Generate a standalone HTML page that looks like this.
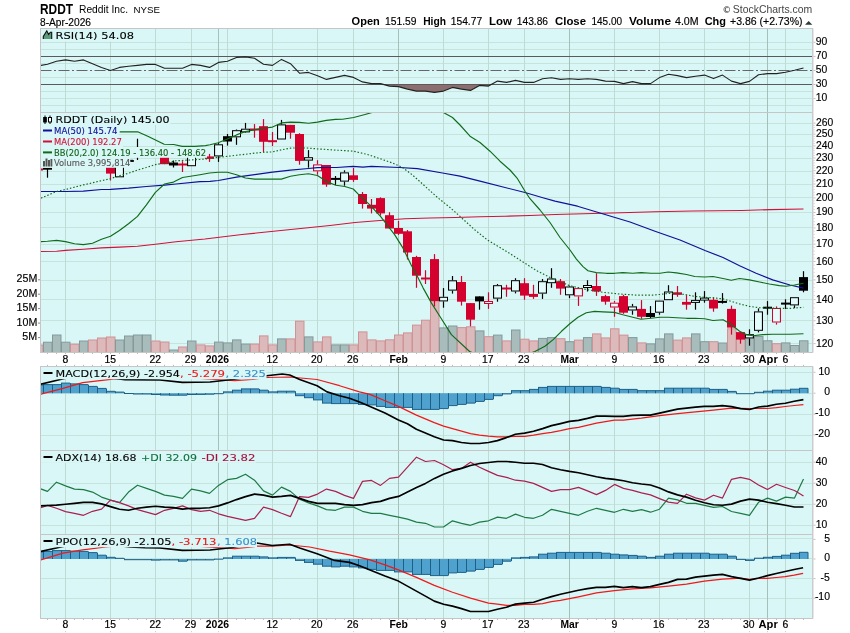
<!DOCTYPE html>
<html><head><meta charset="utf-8"><title>RDDT</title><style>html,body{margin:0;padding:0;background:#fff}svg{display:block;will-change:transform}</style></head><body>
<svg width="850" height="633" viewBox="0 0 850 633">
<defs>
<clipPath id="c_rsi"><rect x="41" y="29" width="771" height="83"/></clipPath>
<clipPath id="c_main"><rect x="41" y="113" width="771" height="239"/></clipPath>
<clipPath id="c_macd"><rect x="41" y="367" width="771" height="83"/></clipPath>
<clipPath id="c_adx"><rect x="41" y="451" width="771" height="83"/></clipPath>
<clipPath id="c_ppo"><rect x="41" y="535" width="771" height="83"/></clipPath>
</defs>
<rect x="0" y="0" width="850" height="633" fill="#fff"/>
<rect x="40.5" y="28.5" width="772" height="84" fill="#daf7f7"/>
<rect x="40.5" y="112.5" width="772" height="240" fill="#daf7f7"/>
<rect x="40.5" y="366.5" width="772" height="84" fill="#daf7f7"/>
<rect x="40.5" y="450.5" width="772" height="84" fill="#daf7f7"/>
<rect x="40.5" y="534.5" width="772" height="84" fill="#daf7f7"/>
<line x1="40.5" y1="105.5" x2="812.5" y2="105.5" stroke="#c6e3dc" stroke-width="1"/>
<line x1="40.5" y1="98.5" x2="812.5" y2="98.5" stroke="#c6e3dc" stroke-width="1"/>
<line x1="40.5" y1="91.5" x2="812.5" y2="91.5" stroke="#c6e3dc" stroke-width="1"/>
<line x1="40.5" y1="77.5" x2="812.5" y2="77.5" stroke="#c6e3dc" stroke-width="1"/>
<line x1="40.5" y1="63.5" x2="812.5" y2="63.5" stroke="#c6e3dc" stroke-width="1"/>
<line x1="40.5" y1="49.5" x2="812.5" y2="49.5" stroke="#c6e3dc" stroke-width="1"/>
<line x1="40.5" y1="42.5" x2="812.5" y2="42.5" stroke="#c6e3dc" stroke-width="1"/>
<line x1="65.5" y1="28.5" x2="65.5" y2="112.5" stroke="#bedcd4" stroke-width="1"/>
<line x1="110.5" y1="28.5" x2="110.5" y2="112.5" stroke="#bedcd4" stroke-width="1"/>
<line x1="155.5" y1="28.5" x2="155.5" y2="112.5" stroke="#bedcd4" stroke-width="1"/>
<line x1="191.5" y1="28.5" x2="191.5" y2="112.5" stroke="#bedcd4" stroke-width="1"/>
<line x1="218.5" y1="28.5" x2="218.5" y2="112.5" stroke="#a5c0b6" stroke-width="1"/>
<line x1="227.5" y1="28.5" x2="227.5" y2="112.5" stroke="#bedcd4" stroke-width="1"/>
<line x1="272.5" y1="28.5" x2="272.5" y2="112.5" stroke="#bedcd4" stroke-width="1"/>
<line x1="317.5" y1="28.5" x2="317.5" y2="112.5" stroke="#bedcd4" stroke-width="1"/>
<line x1="353.5" y1="28.5" x2="353.5" y2="112.5" stroke="#bedcd4" stroke-width="1"/>
<line x1="398.5" y1="28.5" x2="398.5" y2="112.5" stroke="#a5c0b6" stroke-width="1"/>
<line x1="443.5" y1="28.5" x2="443.5" y2="112.5" stroke="#bedcd4" stroke-width="1"/>
<line x1="488.5" y1="28.5" x2="488.5" y2="112.5" stroke="#bedcd4" stroke-width="1"/>
<line x1="524.5" y1="28.5" x2="524.5" y2="112.5" stroke="#bedcd4" stroke-width="1"/>
<line x1="569.5" y1="28.5" x2="569.5" y2="112.5" stroke="#a5c0b6" stroke-width="1"/>
<line x1="614.5" y1="28.5" x2="614.5" y2="112.5" stroke="#bedcd4" stroke-width="1"/>
<line x1="659.5" y1="28.5" x2="659.5" y2="112.5" stroke="#bedcd4" stroke-width="1"/>
<line x1="704.5" y1="28.5" x2="704.5" y2="112.5" stroke="#bedcd4" stroke-width="1"/>
<line x1="749.5" y1="28.5" x2="749.5" y2="112.5" stroke="#bedcd4" stroke-width="1"/>
<line x1="767.5" y1="28.5" x2="767.5" y2="112.5" stroke="#a5c0b6" stroke-width="1"/>
<line x1="785.5" y1="28.5" x2="785.5" y2="112.5" stroke="#bedcd4" stroke-width="1"/>
<line x1="40.5" y1="343.5" x2="812.5" y2="343.5" stroke="#c6e3dc" stroke-width="1"/>
<line x1="40.5" y1="320.5" x2="812.5" y2="320.5" stroke="#c6e3dc" stroke-width="1"/>
<line x1="40.5" y1="299.5" x2="812.5" y2="299.5" stroke="#c6e3dc" stroke-width="1"/>
<line x1="40.5" y1="280.5" x2="812.5" y2="280.5" stroke="#c6e3dc" stroke-width="1"/>
<line x1="40.5" y1="261.5" x2="812.5" y2="261.5" stroke="#c6e3dc" stroke-width="1"/>
<line x1="40.5" y1="244.5" x2="812.5" y2="244.5" stroke="#c6e3dc" stroke-width="1"/>
<line x1="40.5" y1="227.5" x2="812.5" y2="227.5" stroke="#c6e3dc" stroke-width="1"/>
<line x1="40.5" y1="212.5" x2="812.5" y2="212.5" stroke="#c6e3dc" stroke-width="1"/>
<line x1="40.5" y1="197.5" x2="812.5" y2="197.5" stroke="#c6e3dc" stroke-width="1"/>
<line x1="40.5" y1="184.5" x2="812.5" y2="184.5" stroke="#c6e3dc" stroke-width="1"/>
<line x1="40.5" y1="171.5" x2="812.5" y2="171.5" stroke="#c6e3dc" stroke-width="1"/>
<line x1="40.5" y1="158.5" x2="812.5" y2="158.5" stroke="#c6e3dc" stroke-width="1"/>
<line x1="40.5" y1="146.5" x2="812.5" y2="146.5" stroke="#c6e3dc" stroke-width="1"/>
<line x1="40.5" y1="134.5" x2="812.5" y2="134.5" stroke="#c6e3dc" stroke-width="1"/>
<line x1="40.5" y1="123.5" x2="812.5" y2="123.5" stroke="#c6e3dc" stroke-width="1"/>
<line x1="65.5" y1="112.5" x2="65.5" y2="352.5" stroke="#bedcd4" stroke-width="1"/>
<line x1="110.5" y1="112.5" x2="110.5" y2="352.5" stroke="#bedcd4" stroke-width="1"/>
<line x1="155.5" y1="112.5" x2="155.5" y2="352.5" stroke="#bedcd4" stroke-width="1"/>
<line x1="191.5" y1="112.5" x2="191.5" y2="352.5" stroke="#bedcd4" stroke-width="1"/>
<line x1="218.5" y1="112.5" x2="218.5" y2="352.5" stroke="#a5c0b6" stroke-width="1"/>
<line x1="227.5" y1="112.5" x2="227.5" y2="352.5" stroke="#bedcd4" stroke-width="1"/>
<line x1="272.5" y1="112.5" x2="272.5" y2="352.5" stroke="#bedcd4" stroke-width="1"/>
<line x1="317.5" y1="112.5" x2="317.5" y2="352.5" stroke="#bedcd4" stroke-width="1"/>
<line x1="353.5" y1="112.5" x2="353.5" y2="352.5" stroke="#bedcd4" stroke-width="1"/>
<line x1="398.5" y1="112.5" x2="398.5" y2="352.5" stroke="#a5c0b6" stroke-width="1"/>
<line x1="443.5" y1="112.5" x2="443.5" y2="352.5" stroke="#bedcd4" stroke-width="1"/>
<line x1="488.5" y1="112.5" x2="488.5" y2="352.5" stroke="#bedcd4" stroke-width="1"/>
<line x1="524.5" y1="112.5" x2="524.5" y2="352.5" stroke="#bedcd4" stroke-width="1"/>
<line x1="569.5" y1="112.5" x2="569.5" y2="352.5" stroke="#a5c0b6" stroke-width="1"/>
<line x1="614.5" y1="112.5" x2="614.5" y2="352.5" stroke="#bedcd4" stroke-width="1"/>
<line x1="659.5" y1="112.5" x2="659.5" y2="352.5" stroke="#bedcd4" stroke-width="1"/>
<line x1="704.5" y1="112.5" x2="704.5" y2="352.5" stroke="#bedcd4" stroke-width="1"/>
<line x1="749.5" y1="112.5" x2="749.5" y2="352.5" stroke="#bedcd4" stroke-width="1"/>
<line x1="767.5" y1="112.5" x2="767.5" y2="352.5" stroke="#a5c0b6" stroke-width="1"/>
<line x1="785.5" y1="112.5" x2="785.5" y2="352.5" stroke="#bedcd4" stroke-width="1"/>
<line x1="40.5" y1="372.5" x2="812.5" y2="372.5" stroke="#c6e3dc" stroke-width="1"/>
<line x1="40.5" y1="393.5" x2="812.5" y2="393.5" stroke="#c6e3dc" stroke-width="1"/>
<line x1="40.5" y1="414.5" x2="812.5" y2="414.5" stroke="#c6e3dc" stroke-width="1"/>
<line x1="40.5" y1="435.5" x2="812.5" y2="435.5" stroke="#c6e3dc" stroke-width="1"/>
<line x1="65.5" y1="366.5" x2="65.5" y2="450.5" stroke="#bedcd4" stroke-width="1"/>
<line x1="110.5" y1="366.5" x2="110.5" y2="450.5" stroke="#bedcd4" stroke-width="1"/>
<line x1="155.5" y1="366.5" x2="155.5" y2="450.5" stroke="#bedcd4" stroke-width="1"/>
<line x1="191.5" y1="366.5" x2="191.5" y2="450.5" stroke="#bedcd4" stroke-width="1"/>
<line x1="218.5" y1="366.5" x2="218.5" y2="450.5" stroke="#a5c0b6" stroke-width="1"/>
<line x1="227.5" y1="366.5" x2="227.5" y2="450.5" stroke="#bedcd4" stroke-width="1"/>
<line x1="272.5" y1="366.5" x2="272.5" y2="450.5" stroke="#bedcd4" stroke-width="1"/>
<line x1="317.5" y1="366.5" x2="317.5" y2="450.5" stroke="#bedcd4" stroke-width="1"/>
<line x1="353.5" y1="366.5" x2="353.5" y2="450.5" stroke="#bedcd4" stroke-width="1"/>
<line x1="398.5" y1="366.5" x2="398.5" y2="450.5" stroke="#a5c0b6" stroke-width="1"/>
<line x1="443.5" y1="366.5" x2="443.5" y2="450.5" stroke="#bedcd4" stroke-width="1"/>
<line x1="488.5" y1="366.5" x2="488.5" y2="450.5" stroke="#bedcd4" stroke-width="1"/>
<line x1="524.5" y1="366.5" x2="524.5" y2="450.5" stroke="#bedcd4" stroke-width="1"/>
<line x1="569.5" y1="366.5" x2="569.5" y2="450.5" stroke="#a5c0b6" stroke-width="1"/>
<line x1="614.5" y1="366.5" x2="614.5" y2="450.5" stroke="#bedcd4" stroke-width="1"/>
<line x1="659.5" y1="366.5" x2="659.5" y2="450.5" stroke="#bedcd4" stroke-width="1"/>
<line x1="704.5" y1="366.5" x2="704.5" y2="450.5" stroke="#bedcd4" stroke-width="1"/>
<line x1="749.5" y1="366.5" x2="749.5" y2="450.5" stroke="#bedcd4" stroke-width="1"/>
<line x1="767.5" y1="366.5" x2="767.5" y2="450.5" stroke="#a5c0b6" stroke-width="1"/>
<line x1="785.5" y1="366.5" x2="785.5" y2="450.5" stroke="#bedcd4" stroke-width="1"/>
<line x1="40.5" y1="525.5" x2="812.5" y2="525.5" stroke="#c6e3dc" stroke-width="1"/>
<line x1="40.5" y1="504.5" x2="812.5" y2="504.5" stroke="#c6e3dc" stroke-width="1"/>
<line x1="40.5" y1="483.5" x2="812.5" y2="483.5" stroke="#c6e3dc" stroke-width="1"/>
<line x1="40.5" y1="462.5" x2="812.5" y2="462.5" stroke="#c6e3dc" stroke-width="1"/>
<line x1="65.5" y1="450.5" x2="65.5" y2="534.5" stroke="#bedcd4" stroke-width="1"/>
<line x1="110.5" y1="450.5" x2="110.5" y2="534.5" stroke="#bedcd4" stroke-width="1"/>
<line x1="155.5" y1="450.5" x2="155.5" y2="534.5" stroke="#bedcd4" stroke-width="1"/>
<line x1="191.5" y1="450.5" x2="191.5" y2="534.5" stroke="#bedcd4" stroke-width="1"/>
<line x1="218.5" y1="450.5" x2="218.5" y2="534.5" stroke="#a5c0b6" stroke-width="1"/>
<line x1="227.5" y1="450.5" x2="227.5" y2="534.5" stroke="#bedcd4" stroke-width="1"/>
<line x1="272.5" y1="450.5" x2="272.5" y2="534.5" stroke="#bedcd4" stroke-width="1"/>
<line x1="317.5" y1="450.5" x2="317.5" y2="534.5" stroke="#bedcd4" stroke-width="1"/>
<line x1="353.5" y1="450.5" x2="353.5" y2="534.5" stroke="#bedcd4" stroke-width="1"/>
<line x1="398.5" y1="450.5" x2="398.5" y2="534.5" stroke="#a5c0b6" stroke-width="1"/>
<line x1="443.5" y1="450.5" x2="443.5" y2="534.5" stroke="#bedcd4" stroke-width="1"/>
<line x1="488.5" y1="450.5" x2="488.5" y2="534.5" stroke="#bedcd4" stroke-width="1"/>
<line x1="524.5" y1="450.5" x2="524.5" y2="534.5" stroke="#bedcd4" stroke-width="1"/>
<line x1="569.5" y1="450.5" x2="569.5" y2="534.5" stroke="#a5c0b6" stroke-width="1"/>
<line x1="614.5" y1="450.5" x2="614.5" y2="534.5" stroke="#bedcd4" stroke-width="1"/>
<line x1="659.5" y1="450.5" x2="659.5" y2="534.5" stroke="#bedcd4" stroke-width="1"/>
<line x1="704.5" y1="450.5" x2="704.5" y2="534.5" stroke="#bedcd4" stroke-width="1"/>
<line x1="749.5" y1="450.5" x2="749.5" y2="534.5" stroke="#bedcd4" stroke-width="1"/>
<line x1="767.5" y1="450.5" x2="767.5" y2="534.5" stroke="#a5c0b6" stroke-width="1"/>
<line x1="785.5" y1="450.5" x2="785.5" y2="534.5" stroke="#bedcd4" stroke-width="1"/>
<line x1="40.5" y1="538.5" x2="812.5" y2="538.5" stroke="#c6e3dc" stroke-width="1"/>
<line x1="40.5" y1="558.5" x2="812.5" y2="558.5" stroke="#c6e3dc" stroke-width="1"/>
<line x1="40.5" y1="578.5" x2="812.5" y2="578.5" stroke="#c6e3dc" stroke-width="1"/>
<line x1="40.5" y1="598.5" x2="812.5" y2="598.5" stroke="#c6e3dc" stroke-width="1"/>
<line x1="65.5" y1="534.5" x2="65.5" y2="618.5" stroke="#bedcd4" stroke-width="1"/>
<line x1="110.5" y1="534.5" x2="110.5" y2="618.5" stroke="#bedcd4" stroke-width="1"/>
<line x1="155.5" y1="534.5" x2="155.5" y2="618.5" stroke="#bedcd4" stroke-width="1"/>
<line x1="191.5" y1="534.5" x2="191.5" y2="618.5" stroke="#bedcd4" stroke-width="1"/>
<line x1="218.5" y1="534.5" x2="218.5" y2="618.5" stroke="#a5c0b6" stroke-width="1"/>
<line x1="227.5" y1="534.5" x2="227.5" y2="618.5" stroke="#bedcd4" stroke-width="1"/>
<line x1="272.5" y1="534.5" x2="272.5" y2="618.5" stroke="#bedcd4" stroke-width="1"/>
<line x1="317.5" y1="534.5" x2="317.5" y2="618.5" stroke="#bedcd4" stroke-width="1"/>
<line x1="353.5" y1="534.5" x2="353.5" y2="618.5" stroke="#bedcd4" stroke-width="1"/>
<line x1="398.5" y1="534.5" x2="398.5" y2="618.5" stroke="#a5c0b6" stroke-width="1"/>
<line x1="443.5" y1="534.5" x2="443.5" y2="618.5" stroke="#bedcd4" stroke-width="1"/>
<line x1="488.5" y1="534.5" x2="488.5" y2="618.5" stroke="#bedcd4" stroke-width="1"/>
<line x1="524.5" y1="534.5" x2="524.5" y2="618.5" stroke="#bedcd4" stroke-width="1"/>
<line x1="569.5" y1="534.5" x2="569.5" y2="618.5" stroke="#a5c0b6" stroke-width="1"/>
<line x1="614.5" y1="534.5" x2="614.5" y2="618.5" stroke="#bedcd4" stroke-width="1"/>
<line x1="659.5" y1="534.5" x2="659.5" y2="618.5" stroke="#bedcd4" stroke-width="1"/>
<line x1="704.5" y1="534.5" x2="704.5" y2="618.5" stroke="#bedcd4" stroke-width="1"/>
<line x1="749.5" y1="534.5" x2="749.5" y2="618.5" stroke="#bedcd4" stroke-width="1"/>
<line x1="767.5" y1="534.5" x2="767.5" y2="618.5" stroke="#a5c0b6" stroke-width="1"/>
<line x1="785.5" y1="534.5" x2="785.5" y2="618.5" stroke="#bedcd4" stroke-width="1"/>
<g clip-path="url(#c_rsi)">
<polygon points="383.7,84.5 389.5,86.1 398.5,86.6 407.5,89.1 416.5,91.1 425.5,91.1 434.5,92.4 443.5,91.1 452.5,87.4 461.5,89.1 470.5,90.4 479.5,85.4 488.5,86.1 491.4,84.5" fill="#8d6e70"/>
<line x1="40.5" y1="56.5" x2="812.5" y2="56.5" stroke="#5a5a5a" stroke-width="1"/>
<line x1="40.5" y1="84.5" x2="812.5" y2="84.5" stroke="#5a5a5a" stroke-width="1"/>
<line x1="40.5" y1="70.5" x2="812.5" y2="70.5" stroke="#666" stroke-width="1" stroke-dasharray="11,2.5,2,2.5"/>
<polyline points="40.7,65.4 47.5,64.2 56.5,61.2 65.5,59.9 74.5,61.2 83.5,59.9 92.5,63.7 101.5,67.4 110.5,70.4 119.5,67.4 128.5,66.2 137.5,65.4 146.5,64.4 155.5,64.4 164.5,68.3 173.5,68.3 182.5,68.3 191.5,64.4 200.5,65.4 209.5,67.4 218.5,62.4 227.5,61.2 236.5,57.4 245.5,56.9 254.5,58.2 263.5,64.2 272.5,65.4 281.5,59.4 290.5,63.7 299.5,73.2 308.5,72.4 317.5,75.7 326.5,79.4 335.5,77.4 344.5,75.4 353.5,77.4 362.5,81.9 371.5,83.6 380.5,83.6 389.5,86.1 398.5,86.6 407.5,89.1 416.5,91.1 425.5,91.1 434.5,92.4 443.5,91.1 452.5,87.4 461.5,89.1 470.5,90.4 479.5,85.4 488.5,86.1 497.5,81.1 506.5,82.4 515.5,80.4 524.5,82.4 533.5,82.4 542.5,78.7 551.5,77.7 560.5,79.4 569.5,78.7 578.5,79.4 587.5,78.7 596.5,79.4 605.5,81.1 614.5,81.4 623.5,83.6 632.5,81.6 641.5,83.6 650.5,83.6 659.5,77.6 668.5,74.3 677.5,75.6 686.5,77.6 695.5,76.3 704.5,75.1 713.5,78.6 722.5,75.1 731.5,81.1 740.5,83.6 749.5,81.4 758.5,74.8 767.5,73.6 776.5,73.6 785.5,72.3 794.5,70.3 803.5,68" fill="none" stroke="#222" stroke-width="1.1" stroke-linejoin="round"/>
</g>
<g clip-path="url(#c_main)">
<rect x="34.5" y="345" width="8.5" height="8" fill="#dcb9bb" stroke="#cf9295" stroke-width="1"/>
<rect x="43.5" y="342.2" width="8.5" height="10.8" fill="#a9bcbc" stroke="#84999a" stroke-width="1"/>
<rect x="52.5" y="335" width="8.5" height="18" fill="#a9bcbc" stroke="#84999a" stroke-width="1"/>
<rect x="61.5" y="342.2" width="8.5" height="10.8" fill="#a9bcbc" stroke="#84999a" stroke-width="1"/>
<rect x="70.5" y="344.2" width="8.5" height="8.8" fill="#dcb9bb" stroke="#cf9295" stroke-width="1"/>
<rect x="79.5" y="341" width="8.5" height="12" fill="#a9bcbc" stroke="#84999a" stroke-width="1"/>
<rect x="88.5" y="340" width="8.5" height="13" fill="#dcb9bb" stroke="#cf9295" stroke-width="1"/>
<rect x="97.5" y="338" width="8.5" height="15" fill="#dcb9bb" stroke="#cf9295" stroke-width="1"/>
<rect x="106.5" y="337" width="8.5" height="16" fill="#dcb9bb" stroke="#cf9295" stroke-width="1"/>
<rect x="115.5" y="340" width="8.5" height="13" fill="#a9bcbc" stroke="#84999a" stroke-width="1"/>
<rect x="124.5" y="336" width="8.5" height="17" fill="#a9bcbc" stroke="#84999a" stroke-width="1"/>
<rect x="133.5" y="335" width="8.5" height="18" fill="#a9bcbc" stroke="#84999a" stroke-width="1"/>
<rect x="142.5" y="335" width="8.5" height="18" fill="#a9bcbc" stroke="#84999a" stroke-width="1"/>
<rect x="151.5" y="341" width="8.5" height="12" fill="#dcb9bb" stroke="#cf9295" stroke-width="1"/>
<rect x="160.5" y="342" width="8.5" height="11" fill="#dcb9bb" stroke="#cf9295" stroke-width="1"/>
<rect x="169.5" y="350" width="8.5" height="3" fill="#a9bcbc" stroke="#84999a" stroke-width="1"/>
<rect x="178.5" y="347" width="8.5" height="6" fill="#dcb9bb" stroke="#cf9295" stroke-width="1"/>
<rect x="187.5" y="341" width="8.5" height="12" fill="#a9bcbc" stroke="#84999a" stroke-width="1"/>
<rect x="196.5" y="344.9" width="8.5" height="8.1" fill="#dcb9bb" stroke="#cf9295" stroke-width="1"/>
<rect x="205.5" y="345.9" width="8.5" height="7.1" fill="#dcb9bb" stroke="#cf9295" stroke-width="1"/>
<rect x="214.5" y="342.1" width="8.5" height="10.9" fill="#a9bcbc" stroke="#84999a" stroke-width="1"/>
<rect x="223.5" y="342.9" width="8.5" height="10.1" fill="#a9bcbc" stroke="#84999a" stroke-width="1"/>
<rect x="232.5" y="339.9" width="8.5" height="13.1" fill="#a9bcbc" stroke="#84999a" stroke-width="1"/>
<rect x="241.5" y="344.1" width="8.5" height="8.9" fill="#a9bcbc" stroke="#84999a" stroke-width="1"/>
<rect x="250.5" y="344.1" width="8.5" height="8.9" fill="#dcb9bb" stroke="#cf9295" stroke-width="1"/>
<rect x="259.5" y="335.9" width="8.5" height="17.1" fill="#dcb9bb" stroke="#cf9295" stroke-width="1"/>
<rect x="268.5" y="344.9" width="8.5" height="8.1" fill="#dcb9bb" stroke="#cf9295" stroke-width="1"/>
<rect x="277.5" y="338.9" width="8.5" height="14.1" fill="#a9bcbc" stroke="#84999a" stroke-width="1"/>
<rect x="286.5" y="338.9" width="8.5" height="14.1" fill="#dcb9bb" stroke="#cf9295" stroke-width="1"/>
<rect x="295.5" y="321.2" width="8.5" height="31.8" fill="#dcb9bb" stroke="#cf9295" stroke-width="1"/>
<rect x="304.5" y="336.9" width="8.5" height="16.1" fill="#a9bcbc" stroke="#84999a" stroke-width="1"/>
<rect x="313.5" y="341.9" width="8.5" height="11.1" fill="#dcb9bb" stroke="#cf9295" stroke-width="1"/>
<rect x="322.5" y="336.9" width="8.5" height="16.1" fill="#dcb9bb" stroke="#cf9295" stroke-width="1"/>
<rect x="331.5" y="344.9" width="8.5" height="8.1" fill="#a9bcbc" stroke="#84999a" stroke-width="1"/>
<rect x="340.5" y="344.9" width="8.5" height="8.1" fill="#a9bcbc" stroke="#84999a" stroke-width="1"/>
<rect x="349.5" y="344.9" width="8.5" height="8.1" fill="#dcb9bb" stroke="#cf9295" stroke-width="1"/>
<rect x="358.5" y="331.9" width="8.5" height="21.1" fill="#dcb9bb" stroke="#cf9295" stroke-width="1"/>
<rect x="367.5" y="339.9" width="8.5" height="13.1" fill="#dcb9bb" stroke="#cf9295" stroke-width="1"/>
<rect x="376.5" y="340.9" width="8.5" height="12.1" fill="#dcb9bb" stroke="#cf9295" stroke-width="1"/>
<rect x="385.5" y="339.8" width="8.5" height="13.2" fill="#dcb9bb" stroke="#cf9295" stroke-width="1"/>
<rect x="394.5" y="335" width="8.5" height="18" fill="#dcb9bb" stroke="#cf9295" stroke-width="1"/>
<rect x="403.5" y="332.9" width="8.5" height="20.1" fill="#dcb9bb" stroke="#cf9295" stroke-width="1"/>
<rect x="412.5" y="325.1" width="8.5" height="27.9" fill="#dcb9bb" stroke="#cf9295" stroke-width="1"/>
<rect x="421.5" y="320.2" width="8.5" height="32.8" fill="#dcb9bb" stroke="#cf9295" stroke-width="1"/>
<rect x="430.5" y="301.6" width="8.5" height="51.4" fill="#dcb9bb" stroke="#cf9295" stroke-width="1"/>
<rect x="439.5" y="327.9" width="8.5" height="25.1" fill="#a9bcbc" stroke="#84999a" stroke-width="1"/>
<rect x="448.5" y="326" width="8.5" height="27" fill="#a9bcbc" stroke="#84999a" stroke-width="1"/>
<rect x="457.5" y="327.6" width="8.5" height="25.4" fill="#dcb9bb" stroke="#cf9295" stroke-width="1"/>
<rect x="466.5" y="326.8" width="8.5" height="26.2" fill="#dcb9bb" stroke="#cf9295" stroke-width="1"/>
<rect x="475.5" y="330.9" width="8.5" height="22.1" fill="#a9bcbc" stroke="#84999a" stroke-width="1"/>
<rect x="484.5" y="336.7" width="8.5" height="16.3" fill="#dcb9bb" stroke="#cf9295" stroke-width="1"/>
<rect x="493.5" y="335.1" width="8.5" height="17.9" fill="#a9bcbc" stroke="#84999a" stroke-width="1"/>
<rect x="502.5" y="340.9" width="8.5" height="12.1" fill="#dcb9bb" stroke="#cf9295" stroke-width="1"/>
<rect x="511.5" y="330" width="8.5" height="23" fill="#a9bcbc" stroke="#84999a" stroke-width="1"/>
<rect x="520.5" y="339.2" width="8.5" height="13.8" fill="#dcb9bb" stroke="#cf9295" stroke-width="1"/>
<rect x="529.5" y="340.9" width="8.5" height="12.1" fill="#dcb9bb" stroke="#cf9295" stroke-width="1"/>
<rect x="538.5" y="338.4" width="8.5" height="14.6" fill="#a9bcbc" stroke="#84999a" stroke-width="1"/>
<rect x="547.5" y="337.6" width="8.5" height="15.4" fill="#a9bcbc" stroke="#84999a" stroke-width="1"/>
<rect x="556.5" y="338.7" width="8.5" height="14.3" fill="#dcb9bb" stroke="#cf9295" stroke-width="1"/>
<rect x="565.5" y="341.7" width="8.5" height="11.3" fill="#a9bcbc" stroke="#84999a" stroke-width="1"/>
<rect x="574.5" y="340.1" width="8.5" height="12.9" fill="#dcb9bb" stroke="#cf9295" stroke-width="1"/>
<rect x="583.5" y="337.6" width="8.5" height="15.4" fill="#a9bcbc" stroke="#84999a" stroke-width="1"/>
<rect x="592.5" y="333.9" width="8.5" height="19.1" fill="#dcb9bb" stroke="#cf9295" stroke-width="1"/>
<rect x="601.5" y="337.9" width="8.5" height="15.1" fill="#dcb9bb" stroke="#cf9295" stroke-width="1"/>
<rect x="610.5" y="328.8" width="8.5" height="24.2" fill="#dcb9bb" stroke="#cf9295" stroke-width="1"/>
<rect x="619.5" y="335.1" width="8.5" height="17.9" fill="#dcb9bb" stroke="#cf9295" stroke-width="1"/>
<rect x="628.5" y="337.6" width="8.5" height="15.4" fill="#a9bcbc" stroke="#84999a" stroke-width="1"/>
<rect x="637.5" y="342.9" width="8.5" height="10.1" fill="#dcb9bb" stroke="#cf9295" stroke-width="1"/>
<rect x="646.5" y="343.9" width="8.5" height="9.1" fill="#a9bcbc" stroke="#84999a" stroke-width="1"/>
<rect x="655.5" y="338.9" width="8.5" height="14.1" fill="#a9bcbc" stroke="#84999a" stroke-width="1"/>
<rect x="664.5" y="333.9" width="8.5" height="19.1" fill="#a9bcbc" stroke="#84999a" stroke-width="1"/>
<rect x="673.5" y="340.1" width="8.5" height="12.9" fill="#dcb9bb" stroke="#cf9295" stroke-width="1"/>
<rect x="682.5" y="337.9" width="8.5" height="15.1" fill="#dcb9bb" stroke="#cf9295" stroke-width="1"/>
<rect x="691.5" y="333.9" width="8.5" height="19.1" fill="#a9bcbc" stroke="#84999a" stroke-width="1"/>
<rect x="700.5" y="341.7" width="8.5" height="11.3" fill="#a9bcbc" stroke="#84999a" stroke-width="1"/>
<rect x="709.5" y="341.7" width="8.5" height="11.3" fill="#dcb9bb" stroke="#cf9295" stroke-width="1"/>
<rect x="718.5" y="343" width="8.5" height="10" fill="#a9bcbc" stroke="#84999a" stroke-width="1"/>
<rect x="727.5" y="328.8" width="8.5" height="24.2" fill="#dcb9bb" stroke="#cf9295" stroke-width="1"/>
<rect x="736.5" y="334" width="8.5" height="19" fill="#dcb9bb" stroke="#cf9295" stroke-width="1"/>
<rect x="745.5" y="335.9" width="8.5" height="17.1" fill="#a9bcbc" stroke="#84999a" stroke-width="1"/>
<rect x="754.5" y="336.5" width="8.5" height="16.5" fill="#a9bcbc" stroke="#84999a" stroke-width="1"/>
<rect x="763.5" y="340.8" width="8.5" height="12.2" fill="#a9bcbc" stroke="#84999a" stroke-width="1"/>
<rect x="772.5" y="343.7" width="8.5" height="9.3" fill="#dcb9bb" stroke="#cf9295" stroke-width="1"/>
<rect x="781.5" y="342.9" width="8.5" height="10.1" fill="#a9bcbc" stroke="#84999a" stroke-width="1"/>
<rect x="790.5" y="345.5" width="8.5" height="7.5" fill="#a9bcbc" stroke="#84999a" stroke-width="1"/>
<rect x="799.5" y="340.8" width="8.5" height="12.2" fill="#a9bcbc" stroke="#84999a" stroke-width="1"/>
<line x1="38.5" y1="168.5" x2="38.5" y2="170.5" stroke="#d4002e" stroke-width="1.2"/>
<rect x="34" y="168.5" width="9" height="2" fill="#d4002e"/>
<line x1="47.5" y1="168.7" x2="47.5" y2="177.7" stroke="#000" stroke-width="1.2"/>
<rect x="43" y="167.7" width="9" height="2" fill="#000"/>
<line x1="110.5" y1="160" x2="110.5" y2="180.5" stroke="#d4002e" stroke-width="1.2"/>
<rect x="106" y="160" width="9" height="13.6" fill="#d4002e"/>
<line x1="119.5" y1="158" x2="119.5" y2="158" stroke="#000" stroke-width="1.2"/>
<line x1="119.5" y1="177.3" x2="119.5" y2="177.3" stroke="#000" stroke-width="1.2"/>
<rect x="115" y="158" width="9" height="19.3" fill="#000"/>
<rect x="116" y="159" width="6.9" height="17.3" fill="#e4fbfb"/>
<line x1="128.5" y1="158" x2="128.5" y2="162" stroke="#000" stroke-width="1.2"/>
<rect x="124" y="159.8" width="9" height="2" fill="#000"/>
<line x1="137.5" y1="138.7" x2="137.5" y2="149" stroke="#000" stroke-width="1.2"/>
<line x1="137.5" y1="155" x2="137.5" y2="160" stroke="#000" stroke-width="1.2"/>
<rect x="133" y="149" width="9" height="6" fill="#000"/>
<rect x="134.1" y="150" width="6.9" height="4" fill="#e4fbfb"/>
<line x1="164.5" y1="152" x2="164.5" y2="164.2" stroke="#d4002e" stroke-width="1.2"/>
<rect x="160" y="152" width="9" height="12.2" fill="#d4002e"/>
<line x1="173.5" y1="160.5" x2="173.5" y2="167.5" stroke="#000" stroke-width="1.2"/>
<rect x="169" y="162.5" width="9" height="3" fill="#000"/>
<line x1="182.5" y1="161.2" x2="182.5" y2="172" stroke="#d4002e" stroke-width="1.2"/>
<rect x="178" y="163.5" width="9" height="2" fill="#d4002e"/>
<line x1="191.5" y1="152" x2="191.5" y2="152" stroke="#000" stroke-width="1.2"/>
<line x1="191.5" y1="166.2" x2="191.5" y2="166.2" stroke="#000" stroke-width="1.2"/>
<rect x="187" y="152" width="9" height="14.2" fill="#000"/>
<rect x="188.1" y="153" width="6.9" height="12.2" fill="#e4fbfb"/>
<line x1="209.5" y1="153.9" x2="209.5" y2="161.9" stroke="#d4002e" stroke-width="1.2"/>
<rect x="205" y="156.4" width="9" height="2.5" fill="#d4002e"/>
<line x1="218.5" y1="143.1" x2="218.5" y2="144.3" stroke="#000" stroke-width="1.2"/>
<line x1="218.5" y1="156.4" x2="218.5" y2="161.9" stroke="#000" stroke-width="1.2"/>
<rect x="214" y="144.3" width="9" height="12.1" fill="#000"/>
<rect x="215.1" y="145.3" width="6.9" height="10.1" fill="#e4fbfb"/>
<line x1="227.5" y1="134" x2="227.5" y2="145.6" stroke="#000" stroke-width="1.2"/>
<rect x="223" y="136.2" width="9" height="5.3" fill="#000"/>
<line x1="236.5" y1="129.5" x2="236.5" y2="130.2" stroke="#000" stroke-width="1.2"/>
<line x1="236.5" y1="137.3" x2="236.5" y2="144.8" stroke="#000" stroke-width="1.2"/>
<rect x="232" y="130.2" width="9" height="7.1" fill="#000"/>
<rect x="233.1" y="131.2" width="6.9" height="5.1" fill="#e4fbfb"/>
<line x1="245.5" y1="122.9" x2="245.5" y2="128.7" stroke="#000" stroke-width="1.2"/>
<line x1="245.5" y1="132.4" x2="245.5" y2="132.9" stroke="#000" stroke-width="1.2"/>
<rect x="241" y="128.7" width="9" height="3.7" fill="#000"/>
<rect x="242.1" y="129.7" width="6.9" height="1.7" fill="#e4fbfb"/>
<line x1="254.5" y1="124.1" x2="254.5" y2="137.7" stroke="#d4002e" stroke-width="1.2"/>
<rect x="250" y="128.5" width="9" height="2" fill="#d4002e"/>
<line x1="263.5" y1="119.1" x2="263.5" y2="152.3" stroke="#d4002e" stroke-width="1.2"/>
<rect x="259" y="126.2" width="9" height="15.6" fill="#d4002e"/>
<line x1="272.5" y1="132" x2="272.5" y2="146" stroke="#d4002e" stroke-width="1.2"/>
<rect x="268" y="140.2" width="9" height="2" fill="#d4002e"/>
<line x1="281.5" y1="119.9" x2="281.5" y2="124.4" stroke="#000" stroke-width="1.2"/>
<line x1="281.5" y1="139.5" x2="281.5" y2="139.5" stroke="#000" stroke-width="1.2"/>
<rect x="277" y="124.4" width="9" height="15.1" fill="#000"/>
<rect x="278.1" y="125.4" width="6.9" height="13.1" fill="#e4fbfb"/>
<line x1="290.5" y1="124.9" x2="290.5" y2="138.7" stroke="#d4002e" stroke-width="1.2"/>
<rect x="286" y="124.9" width="9" height="7.8" fill="#d4002e"/>
<line x1="299.5" y1="133.2" x2="299.5" y2="164.7" stroke="#d4002e" stroke-width="1.2"/>
<rect x="295" y="134" width="9" height="26.9" fill="#d4002e"/>
<line x1="308.5" y1="150.1" x2="308.5" y2="157.2" stroke="#000" stroke-width="1.2"/>
<line x1="308.5" y1="160.6" x2="308.5" y2="167.7" stroke="#000" stroke-width="1.2"/>
<rect x="304" y="157.2" width="9" height="3.4" fill="#000"/>
<rect x="305.1" y="158.2" width="6.9" height="1.4" fill="#e4fbfb"/>
<line x1="317.5" y1="160.2" x2="317.5" y2="164.4" stroke="#d4002e" stroke-width="1.2"/>
<line x1="317.5" y1="171.3" x2="317.5" y2="174.7" stroke="#d4002e" stroke-width="1.2"/>
<rect x="313" y="164.4" width="9" height="6.9" fill="#d4002e"/>
<rect x="314.1" y="165.4" width="6.9" height="4.9" fill="#e4fbfb"/>
<line x1="326.5" y1="165" x2="326.5" y2="186.8" stroke="#d4002e" stroke-width="1.2"/>
<rect x="322" y="165" width="9" height="19.6" fill="#d4002e"/>
<line x1="335.5" y1="176" x2="335.5" y2="185" stroke="#000" stroke-width="1.2"/>
<rect x="331" y="177.9" width="9" height="2" fill="#000"/>
<line x1="344.5" y1="170.3" x2="344.5" y2="172.4" stroke="#000" stroke-width="1.2"/>
<line x1="344.5" y1="181.6" x2="344.5" y2="185.7" stroke="#000" stroke-width="1.2"/>
<rect x="340" y="172.4" width="9" height="9.2" fill="#000"/>
<rect x="341.1" y="173.4" width="6.9" height="7.2" fill="#e4fbfb"/>
<line x1="353.5" y1="168" x2="353.5" y2="181.9" stroke="#d4002e" stroke-width="1.2"/>
<rect x="349" y="175.3" width="9" height="4.6" fill="#d4002e"/>
<line x1="362.5" y1="192" x2="362.5" y2="208.6" stroke="#d4002e" stroke-width="1.2"/>
<rect x="358" y="194" width="9" height="10" fill="#d4002e"/>
<line x1="371.5" y1="199" x2="371.5" y2="213.4" stroke="#d4002e" stroke-width="1.2"/>
<rect x="367" y="204.8" width="9" height="3.8" fill="#d4002e"/>
<line x1="380.5" y1="197.3" x2="380.5" y2="215.6" stroke="#d4002e" stroke-width="1.2"/>
<rect x="376" y="198.1" width="9" height="15.3" fill="#d4002e"/>
<line x1="389.5" y1="212.2" x2="389.5" y2="228.5" stroke="#d4002e" stroke-width="1.2"/>
<rect x="385" y="215.2" width="9" height="13.3" fill="#d4002e"/>
<line x1="398.5" y1="221" x2="398.5" y2="235" stroke="#d4002e" stroke-width="1.2"/>
<rect x="394" y="228" width="9" height="5.8" fill="#d4002e"/>
<line x1="407.5" y1="230" x2="407.5" y2="259.5" stroke="#d4002e" stroke-width="1.2"/>
<rect x="403" y="231.3" width="9" height="21.2" fill="#d4002e"/>
<line x1="416.5" y1="255.8" x2="416.5" y2="287.8" stroke="#d4002e" stroke-width="1.2"/>
<rect x="412" y="257" width="9" height="18.7" fill="#d4002e"/>
<line x1="425.5" y1="270.2" x2="425.5" y2="284" stroke="#d4002e" stroke-width="1.2"/>
<rect x="421" y="277.5" width="9" height="2" fill="#d4002e"/>
<line x1="434.5" y1="254.1" x2="434.5" y2="306.4" stroke="#d4002e" stroke-width="1.2"/>
<rect x="430" y="259.1" width="9" height="41.9" fill="#d4002e"/>
<line x1="443.5" y1="288.1" x2="443.5" y2="296.8" stroke="#000" stroke-width="1.2"/>
<line x1="443.5" y1="301.4" x2="443.5" y2="307.7" stroke="#000" stroke-width="1.2"/>
<rect x="439" y="296.8" width="9" height="4.6" fill="#000"/>
<rect x="440.1" y="297.8" width="6.9" height="2.6" fill="#e4fbfb"/>
<line x1="452.5" y1="276" x2="452.5" y2="280.3" stroke="#000" stroke-width="1.2"/>
<line x1="452.5" y1="290.6" x2="452.5" y2="293.6" stroke="#000" stroke-width="1.2"/>
<rect x="448" y="280.3" width="9" height="10.3" fill="#000"/>
<rect x="449.1" y="281.3" width="6.9" height="8.3" fill="#e4fbfb"/>
<line x1="461.5" y1="276" x2="461.5" y2="305.6" stroke="#d4002e" stroke-width="1.2"/>
<rect x="457" y="282" width="9" height="19.7" fill="#d4002e"/>
<line x1="470.5" y1="303.1" x2="470.5" y2="326.3" stroke="#d4002e" stroke-width="1.2"/>
<rect x="466" y="303.1" width="9" height="16.6" fill="#d4002e"/>
<line x1="479.5" y1="296.4" x2="479.5" y2="309.7" stroke="#000" stroke-width="1.2"/>
<rect x="475" y="296.4" width="9" height="5" fill="#000"/>
<line x1="488.5" y1="292.3" x2="488.5" y2="301.1" stroke="#d4002e" stroke-width="1.2"/>
<line x1="488.5" y1="303.9" x2="488.5" y2="308.9" stroke="#d4002e" stroke-width="1.2"/>
<rect x="484" y="301" width="9" height="3" fill="#d4002e"/>
<rect x="485.1" y="302" width="6.9" height="1" fill="#e4fbfb"/>
<line x1="497.5" y1="284" x2="497.5" y2="285.2" stroke="#000" stroke-width="1.2"/>
<line x1="497.5" y1="298.6" x2="497.5" y2="301.7" stroke="#000" stroke-width="1.2"/>
<rect x="493" y="285.2" width="9" height="13.4" fill="#000"/>
<rect x="494.1" y="286.2" width="6.9" height="11.4" fill="#e4fbfb"/>
<line x1="506.5" y1="284.8" x2="506.5" y2="296.8" stroke="#d4002e" stroke-width="1.2"/>
<rect x="502" y="287.5" width="9" height="2" fill="#d4002e"/>
<line x1="515.5" y1="278.2" x2="515.5" y2="280.2" stroke="#000" stroke-width="1.2"/>
<line x1="515.5" y1="291.5" x2="515.5" y2="293.4" stroke="#000" stroke-width="1.2"/>
<rect x="511" y="280.2" width="9" height="11.3" fill="#000"/>
<rect x="512" y="281.2" width="6.9" height="9.3" fill="#e4fbfb"/>
<line x1="524.5" y1="278.2" x2="524.5" y2="299.8" stroke="#d4002e" stroke-width="1.2"/>
<rect x="520" y="283.2" width="9" height="12.4" fill="#d4002e"/>
<line x1="533.5" y1="284.8" x2="533.5" y2="298.9" stroke="#d4002e" stroke-width="1.2"/>
<rect x="529" y="293.9" width="9" height="3" fill="#d4002e"/>
<line x1="542.5" y1="279" x2="542.5" y2="281.2" stroke="#000" stroke-width="1.2"/>
<line x1="542.5" y1="293.6" x2="542.5" y2="298.9" stroke="#000" stroke-width="1.2"/>
<rect x="538" y="281.2" width="9" height="12.4" fill="#000"/>
<rect x="539" y="282.2" width="6.9" height="10.4" fill="#e4fbfb"/>
<line x1="551.5" y1="268.2" x2="551.5" y2="278.5" stroke="#000" stroke-width="1.2"/>
<line x1="551.5" y1="283.2" x2="551.5" y2="287.8" stroke="#000" stroke-width="1.2"/>
<rect x="547" y="278.5" width="9" height="4.7" fill="#000"/>
<rect x="548" y="279.5" width="6.9" height="2.7" fill="#e4fbfb"/>
<line x1="560.5" y1="279" x2="560.5" y2="294.8" stroke="#d4002e" stroke-width="1.2"/>
<rect x="556" y="281.2" width="9" height="7.4" fill="#d4002e"/>
<line x1="569.5" y1="285.7" x2="569.5" y2="286.5" stroke="#000" stroke-width="1.2"/>
<line x1="569.5" y1="295.3" x2="569.5" y2="298.1" stroke="#000" stroke-width="1.2"/>
<rect x="565" y="286.5" width="9" height="8.8" fill="#000"/>
<rect x="566" y="287.5" width="6.9" height="6.8" fill="#e4fbfb"/>
<line x1="578.5" y1="287.3" x2="578.5" y2="288.1" stroke="#d4002e" stroke-width="1.2"/>
<line x1="578.5" y1="296.4" x2="578.5" y2="305.9" stroke="#d4002e" stroke-width="1.2"/>
<rect x="574" y="288.1" width="9" height="8.3" fill="#d4002e"/>
<rect x="575" y="289.1" width="6.9" height="6.3" fill="#e4fbfb"/>
<line x1="587.5" y1="280.2" x2="587.5" y2="285.3" stroke="#000" stroke-width="1.2"/>
<line x1="587.5" y1="287.6" x2="587.5" y2="291.5" stroke="#000" stroke-width="1.2"/>
<rect x="583" y="285" width="9" height="3" fill="#000"/>
<rect x="584" y="286" width="6.9" height="1" fill="#e4fbfb"/>
<line x1="596.5" y1="273.2" x2="596.5" y2="295.9" stroke="#d4002e" stroke-width="1.2"/>
<rect x="592" y="286" width="9" height="5.5" fill="#d4002e"/>
<line x1="605.5" y1="294.8" x2="605.5" y2="304.7" stroke="#d4002e" stroke-width="1.2"/>
<rect x="601" y="296.1" width="9" height="5.6" fill="#d4002e"/>
<line x1="614.5" y1="300.9" x2="614.5" y2="302.7" stroke="#d4002e" stroke-width="1.2"/>
<line x1="614.5" y1="307.5" x2="614.5" y2="316.8" stroke="#d4002e" stroke-width="1.2"/>
<rect x="610" y="302.7" width="9" height="4.8" fill="#d4002e"/>
<rect x="611" y="303.7" width="6.9" height="2.8" fill="#e4fbfb"/>
<line x1="623.5" y1="294.8" x2="623.5" y2="313.8" stroke="#d4002e" stroke-width="1.2"/>
<rect x="619" y="296.1" width="9" height="16.6" fill="#d4002e"/>
<line x1="632.5" y1="303.9" x2="632.5" y2="306.4" stroke="#000" stroke-width="1.2"/>
<line x1="632.5" y1="310.5" x2="632.5" y2="314.7" stroke="#000" stroke-width="1.2"/>
<rect x="628" y="306.4" width="9" height="4.1" fill="#000"/>
<rect x="629" y="307.4" width="6.9" height="2.1" fill="#e4fbfb"/>
<line x1="641.5" y1="300.1" x2="641.5" y2="318.8" stroke="#d4002e" stroke-width="1.2"/>
<rect x="637" y="308.9" width="9" height="7.9" fill="#d4002e"/>
<line x1="650.5" y1="306.1" x2="650.5" y2="318" stroke="#000" stroke-width="1.2"/>
<rect x="646" y="313" width="9" height="4" fill="#000"/>
<line x1="659.5" y1="300.6" x2="659.5" y2="300.6" stroke="#000" stroke-width="1.2"/>
<line x1="659.5" y1="312.7" x2="659.5" y2="314.7" stroke="#000" stroke-width="1.2"/>
<rect x="655" y="300.6" width="9" height="12.1" fill="#000"/>
<rect x="656" y="301.6" width="6.9" height="10.1" fill="#e4fbfb"/>
<line x1="668.5" y1="285.2" x2="668.5" y2="291.5" stroke="#000" stroke-width="1.2"/>
<line x1="668.5" y1="300.2" x2="668.5" y2="300.2" stroke="#000" stroke-width="1.2"/>
<rect x="664" y="291.5" width="9" height="8.7" fill="#000"/>
<rect x="665" y="292.5" width="6.9" height="6.7" fill="#e4fbfb"/>
<line x1="677.5" y1="286" x2="677.5" y2="296.8" stroke="#d4002e" stroke-width="1.2"/>
<rect x="673" y="292.3" width="9" height="2.5" fill="#d4002e"/>
<line x1="686.5" y1="295.1" x2="686.5" y2="309.7" stroke="#d4002e" stroke-width="1.2"/>
<rect x="682" y="301.9" width="9" height="2.8" fill="#d4002e"/>
<line x1="695.5" y1="292.3" x2="695.5" y2="300.2" stroke="#000" stroke-width="1.2"/>
<line x1="695.5" y1="302.7" x2="695.5" y2="309.7" stroke="#000" stroke-width="1.2"/>
<rect x="691" y="299.9" width="9" height="3" fill="#000"/>
<rect x="692" y="300.9" width="6.9" height="1" fill="#e4fbfb"/>
<line x1="704.5" y1="291.1" x2="704.5" y2="298.1" stroke="#000" stroke-width="1.2"/>
<line x1="704.5" y1="300.2" x2="704.5" y2="302.7" stroke="#000" stroke-width="1.2"/>
<rect x="700" y="297.6" width="9" height="3" fill="#000"/>
<rect x="701" y="298.6" width="6.9" height="1" fill="#e4fbfb"/>
<line x1="713.5" y1="297.3" x2="713.5" y2="311.7" stroke="#d4002e" stroke-width="1.2"/>
<rect x="709" y="299.8" width="9" height="8.7" fill="#d4002e"/>
<line x1="722.5" y1="293.1" x2="722.5" y2="303.6" stroke="#000" stroke-width="1.2"/>
<rect x="718" y="300.9" width="9" height="2" fill="#000"/>
<line x1="731.5" y1="305.6" x2="731.5" y2="334.6" stroke="#d4002e" stroke-width="1.2"/>
<rect x="727" y="308.9" width="9" height="18.7" fill="#d4002e"/>
<line x1="740.5" y1="332.1" x2="740.5" y2="343.7" stroke="#d4002e" stroke-width="1.2"/>
<rect x="736" y="332.1" width="9" height="7.5" fill="#d4002e"/>
<line x1="749.5" y1="329.3" x2="749.5" y2="334.2" stroke="#000" stroke-width="1.2"/>
<line x1="749.5" y1="338.4" x2="749.5" y2="345.7" stroke="#000" stroke-width="1.2"/>
<rect x="745" y="334.2" width="9" height="4.2" fill="#000"/>
<rect x="746" y="335.2" width="6.9" height="2.2" fill="#e4fbfb"/>
<line x1="758.5" y1="308.4" x2="758.5" y2="311.4" stroke="#000" stroke-width="1.2"/>
<line x1="758.5" y1="330.8" x2="758.5" y2="332.4" stroke="#000" stroke-width="1.2"/>
<rect x="754" y="311.4" width="9" height="19.4" fill="#000"/>
<rect x="755" y="312.4" width="6.9" height="17.4" fill="#e4fbfb"/>
<line x1="767.5" y1="301.1" x2="767.5" y2="314.7" stroke="#000" stroke-width="1.2"/>
<rect x="763" y="306.7" width="9" height="2" fill="#000"/>
<line x1="776.5" y1="306.4" x2="776.5" y2="308" stroke="#d4002e" stroke-width="1.2"/>
<line x1="776.5" y1="322.5" x2="776.5" y2="324.6" stroke="#d4002e" stroke-width="1.2"/>
<rect x="772" y="308" width="9" height="14.5" fill="#d4002e"/>
<rect x="773" y="309" width="6.9" height="12.5" fill="#e4fbfb"/>
<line x1="785.5" y1="299.3" x2="785.5" y2="308.9" stroke="#000" stroke-width="1.2"/>
<rect x="781" y="302.6" width="9" height="2" fill="#000"/>
<line x1="794.5" y1="297.2" x2="794.5" y2="297.2" stroke="#000" stroke-width="1.2"/>
<line x1="794.5" y1="305.4" x2="794.5" y2="308.1" stroke="#000" stroke-width="1.2"/>
<rect x="790" y="297.2" width="9" height="8.2" fill="#000"/>
<rect x="791" y="298.2" width="6.9" height="6.2" fill="#e4fbfb"/>
<line x1="803.5" y1="271.2" x2="803.5" y2="292.3" stroke="#000" stroke-width="1.2"/>
<rect x="799" y="277.1" width="9" height="13.6" fill="#000"/>
<polyline points="41,251.5 56.6,251.2 65.5,250.4 83.4,249.2 101.5,247.9 119.4,247.1 137.5,246.2 155.4,244.2 176,241.8 205,239 242,234.5 330,225.5 355,222.5 380,220.5 405,218.7 430,218 455,217.5 480,216.7 505,216.2 530,215.5 555,214.5 602.5,213.2 630,212.5 655,211.7 692.5,211 742,210.5 770,209.6 803.5,209" fill="none" stroke="#d3103a" stroke-width="1.15" stroke-linejoin="round"/>
<polyline points="41,191.5 65.5,191.5 83.4,191.2 101.5,189.5 110.5,189.4 128.5,188.2 146.4,186.5 164.5,185.2 176,184 200,181.6 210,181.3 218.4,180.5 236.5,177.1 254.6,174.7 272.5,172.2 290.5,170.2 308.5,168.5 317.4,167.7 326.4,167.5 336.6,167.5 353,166.4 363,167.2 371.4,166.4 399.6,167.5 417.5,168.7 442.5,173 460,176.2 480,181.2 505,187.5 525,192.5 542,197.5 555,201.2 577.5,206.2 602.5,213.7 630,222 655,231.2 680,240 705,250.5 723,257.5 739.6,265.8 756.1,273.2 772.7,279.9 790,285 803.5,288.2" fill="none" stroke="#10109a" stroke-width="1.2" stroke-linejoin="round"/>
<polyline points="119.7,131.8 137.7,131.8 148.3,136.5 164.2,144.3 173.7,144.5 182.2,146.4 194.9,146.4 205.5,145.6 210,144.8 218.2,142.8 227.4,139 236.5,134.9 245.4,131.5 254.6,129.9 263.5,128.2 272.5,127.1 281.4,122.9 290.5,122.1 299.5,122.4 308.5,123.2 317.4,122.1 326.4,120.4 335.5,119.4 342.5,119.2 353.7,117.5 365,114.5 373.7,112 390,106 410,103 430,106 442.5,112 452.5,117.5 460,125 470,136.2 480,142.5 490,151.2 500,161.2 510,170 517.5,178.7 525,191.2 530,198.7 540,210 550,222.5 560,237.5 570,250 576.4,259.1 583,266.6 588,270.7 596.3,272.6 606.2,273.3 614.5,273.3 622.8,272.6 632.8,273.3 641.1,272.6 651,273.3 660,273.2 668.2,272 676.5,272.9 686.5,274.5 694.8,276.5 704.7,277 713,276.5 723,278.5 731.3,280.3 739.6,278.5 749.5,279.9 759.5,282 769.4,284 779.4,285.6 786,286.3 794.5,285 803.5,283.2" fill="none" stroke="#0f6b1a" stroke-width="1.15" stroke-linejoin="round"/>
<polyline points="41,241.6 47.4,241.3 56.6,240.4 65.5,241.6 74.5,243.7 83.4,244.6 92.5,243.2 101.5,239.3 110.5,236.3 119.4,230.5 128.5,223.8 137.5,216.4 146.4,204.8 155.4,192.3 164.5,184 173.5,182.1 182.5,177.5 200,174.7 209.5,173 218.4,172.2 227.4,172.2 236.5,174.7 245.4,178 254.6,179.1 263.5,179.1 272.5,179.1 281.4,179.1 290.5,176.3 299.5,174.7 308.5,173.8 317.4,175.5 326.6,181.6 335.8,185.2 344.9,186.5 353.2,189 359,194.8 369.8,204.8 380.5,216.4 386.3,223.8 394.6,234.6 402.9,247.9 411.2,265 414.9,271.6 423.2,288.1 431.5,303.1 439.8,316.3 451.4,334.6 469.6,351.5 480,356 500,360 520,357 534.9,351.5 544.9,346.2 553.2,339.6 561.5,331.3 569.8,323.8 578,317.2 586.3,312.7 594.6,311.4 602.9,311.9 614.5,312.4 622.8,314.7 632.8,317.2 641,319.2 651,318.3 660,317.2 668.2,317.2 676.5,317.7 686.5,318.3 694.8,318.3 704.7,318.8 713,320.5 723,319.7 731.3,324.6 739.6,331.3 746.2,334.6 752.8,335.7 762.8,334.6 772.7,334.2 790,334.2 803.5,333.8" fill="none" stroke="#0f6b1a" stroke-width="1.15" stroke-linejoin="round"/>
<polyline points="41,198.1 56.6,191.5 65.5,189.5 83.4,184.9 101.5,180.7 110.5,178.6 119.4,175.8 128.5,173.3 137.5,170 146.4,167.5 155.4,164.6 164.5,163 176,160.8 190,160 200,159.4 209.5,158.6 218.4,157.2 227.4,156.4 236.5,155.2 245.4,154.3 254.6,153.1 263.5,152.3 272.5,151.9 281.4,149.8 290.5,148.1 299.5,147.8 308.5,148.1 317.4,148.9 326.4,149.4 335.5,150.1 342.5,150.5 353.7,151.2 367.5,154.5 380,158.7 392.5,163 402.5,167.5 412.5,175 425,186.2 437.5,197.5 450,207.5 462.5,218.7 475,230 487.5,240 505,250.5 520,260 536.6,270.7 551.5,278.2 569.8,285.7 586.3,289.5 602.9,292.3 619.5,294 636,295.1 652.7,295.1 660,294.4 668.2,293.4 676.5,293.4 686.5,294.8 694.8,296.4 704.7,297.3 713,297.8 723,298.9 731.3,301.4 739.6,303.9 749.5,306.4 759.5,307.7 769.4,308 779.4,308.4 790,308.4 803.5,307.3" fill="none" stroke="#0f6b1a" stroke-width="1.15" stroke-linejoin="round" stroke-dasharray="1.5,1.9"/>
</g>
<g clip-path="url(#c_macd)">
<rect x="34" y="385" width="9" height="8.2" fill="#4fa2cd"/>
<rect x="43" y="384.6" width="9" height="8.6" fill="#4fa2cd"/>
<rect x="52" y="384.6" width="9" height="8.6" fill="#4fa2cd"/>
<rect x="61" y="383.1" width="9" height="10.1" fill="#4fa2cd"/>
<rect x="70" y="383.9" width="9" height="9.3" fill="#4fa2cd"/>
<rect x="79" y="384.6" width="9" height="8.6" fill="#4fa2cd"/>
<rect x="88" y="386.4" width="9" height="6.8" fill="#4fa2cd"/>
<rect x="97" y="388.4" width="9" height="4.8" fill="#4fa2cd"/>
<rect x="106" y="391.3" width="9" height="1.9" fill="#4fa2cd"/>
<rect x="115" y="392.1" width="9" height="1.1" fill="#4fa2cd"/>
<rect x="133" y="393.2" width="9" height="0.8" fill="#4fa2cd"/>
<rect x="142" y="393.2" width="9" height="0.8" fill="#4fa2cd"/>
<rect x="151" y="393.2" width="9" height="1.3" fill="#4fa2cd"/>
<rect x="160" y="393.2" width="9" height="1.8" fill="#4fa2cd"/>
<rect x="169" y="393.2" width="9" height="2" fill="#4fa2cd"/>
<rect x="178" y="393.2" width="9" height="2" fill="#4fa2cd"/>
<rect x="187" y="393.2" width="9" height="1.3" fill="#4fa2cd"/>
<rect x="196" y="393.2" width="9" height="1.2" fill="#4fa2cd"/>
<rect x="205" y="393.2" width="9" height="1" fill="#4fa2cd"/>
<rect x="223" y="391.9" width="9" height="1.3" fill="#4fa2cd"/>
<rect x="232" y="390.2" width="9" height="3" fill="#4fa2cd"/>
<rect x="241" y="388.9" width="9" height="4.3" fill="#4fa2cd"/>
<rect x="250" y="388.9" width="9" height="4.3" fill="#4fa2cd"/>
<rect x="259" y="390.2" width="9" height="3" fill="#4fa2cd"/>
<rect x="268" y="391.9" width="9" height="1.3" fill="#4fa2cd"/>
<rect x="277" y="391.2" width="9" height="2" fill="#4fa2cd"/>
<rect x="286" y="391.2" width="9" height="2" fill="#4fa2cd"/>
<rect x="295" y="393.2" width="9" height="2.5" fill="#4fa2cd"/>
<rect x="304" y="393.2" width="9" height="4.5" fill="#4fa2cd"/>
<rect x="313" y="393.2" width="9" height="6.7" fill="#4fa2cd"/>
<rect x="322" y="393.2" width="9" height="9.9" fill="#4fa2cd"/>
<rect x="331" y="393.2" width="9" height="10.4" fill="#4fa2cd"/>
<rect x="340" y="393.2" width="9" height="10.4" fill="#4fa2cd"/>
<rect x="349" y="393.2" width="9" height="10.4" fill="#4fa2cd"/>
<rect x="358" y="393.2" width="9" height="11.2" fill="#4fa2cd"/>
<rect x="367" y="393.2" width="9" height="11.7" fill="#4fa2cd"/>
<rect x="376" y="393.2" width="9" height="13.2" fill="#4fa2cd"/>
<rect x="385" y="393.2" width="9" height="14.2" fill="#4fa2cd"/>
<rect x="394" y="393.2" width="9" height="14.2" fill="#4fa2cd"/>
<rect x="403" y="393.2" width="9" height="14.2" fill="#4fa2cd"/>
<rect x="412" y="393.2" width="9" height="16.2" fill="#4fa2cd"/>
<rect x="421" y="393.2" width="9" height="16.2" fill="#4fa2cd"/>
<rect x="430" y="393.2" width="9" height="16.2" fill="#4fa2cd"/>
<rect x="439" y="393.2" width="9" height="15.4" fill="#4fa2cd"/>
<rect x="448" y="393.2" width="9" height="12.4" fill="#4fa2cd"/>
<rect x="457" y="393.2" width="9" height="11.2" fill="#4fa2cd"/>
<rect x="466" y="393.2" width="9" height="9.9" fill="#4fa2cd"/>
<rect x="475" y="393.2" width="9" height="8.2" fill="#4fa2cd"/>
<rect x="484" y="393.2" width="9" height="6.2" fill="#4fa2cd"/>
<rect x="493" y="393.2" width="9" height="2.5" fill="#4fa2cd"/>
<rect x="502" y="393.2" width="9" height="0.7" fill="#4fa2cd"/>
<rect x="511" y="390.7" width="9" height="2.5" fill="#4fa2cd"/>
<rect x="520" y="390.7" width="9" height="2.5" fill="#4fa2cd"/>
<rect x="529" y="389.4" width="9" height="3.8" fill="#4fa2cd"/>
<rect x="538" y="387.4" width="9" height="5.8" fill="#4fa2cd"/>
<rect x="547" y="386.4" width="9" height="6.8" fill="#4fa2cd"/>
<rect x="556" y="386.4" width="9" height="6.8" fill="#4fa2cd"/>
<rect x="565" y="386.4" width="9" height="6.8" fill="#4fa2cd"/>
<rect x="574" y="386.4" width="9" height="6.8" fill="#4fa2cd"/>
<rect x="583" y="386.4" width="9" height="6.8" fill="#4fa2cd"/>
<rect x="592" y="386.4" width="9" height="6.8" fill="#4fa2cd"/>
<rect x="601" y="387.4" width="9" height="5.8" fill="#4fa2cd"/>
<rect x="610" y="388.2" width="9" height="5" fill="#4fa2cd"/>
<rect x="619" y="389.4" width="9" height="3.8" fill="#4fa2cd"/>
<rect x="628" y="389.4" width="9" height="3.8" fill="#4fa2cd"/>
<rect x="637" y="390.7" width="9" height="2.5" fill="#4fa2cd"/>
<rect x="646" y="390.7" width="9" height="2.5" fill="#4fa2cd"/>
<rect x="655" y="390.7" width="9" height="2.5" fill="#4fa2cd"/>
<rect x="664" y="388.2" width="9" height="5" fill="#4fa2cd"/>
<rect x="673" y="388.2" width="9" height="5" fill="#4fa2cd"/>
<rect x="682" y="388.2" width="9" height="5" fill="#4fa2cd"/>
<rect x="691" y="388.2" width="9" height="5" fill="#4fa2cd"/>
<rect x="700" y="388.2" width="9" height="5" fill="#4fa2cd"/>
<rect x="709" y="389.4" width="9" height="3.8" fill="#4fa2cd"/>
<rect x="718" y="389.4" width="9" height="3.8" fill="#4fa2cd"/>
<rect x="727" y="391.4" width="9" height="1.8" fill="#4fa2cd"/>
<rect x="754" y="392.3" width="9" height="0.9" fill="#4fa2cd"/>
<rect x="763" y="391.2" width="9" height="2" fill="#4fa2cd"/>
<rect x="772" y="390.2" width="9" height="3" fill="#4fa2cd"/>
<rect x="781" y="390.2" width="9" height="3" fill="#4fa2cd"/>
<rect x="790" y="389.2" width="9" height="4" fill="#4fa2cd"/>
<rect x="799" y="388.3" width="9" height="4.9" fill="#4fa2cd"/>
<line x1="34" y1="385" x2="43" y2="385" stroke="#1c6088" stroke-width="1"/>
<line x1="43" y1="384.6" x2="52" y2="384.6" stroke="#1c6088" stroke-width="1"/>
<line x1="43.5" y1="384.6" x2="43.5" y2="393.2" stroke="#1c6088" stroke-width="1"/>
<line x1="52" y1="384.6" x2="61" y2="384.6" stroke="#1c6088" stroke-width="1"/>
<line x1="52.5" y1="384.6" x2="52.5" y2="393.2" stroke="#1c6088" stroke-width="1"/>
<line x1="61" y1="383.1" x2="70" y2="383.1" stroke="#1c6088" stroke-width="1"/>
<line x1="61.5" y1="383.1" x2="61.5" y2="393.2" stroke="#1c6088" stroke-width="1"/>
<line x1="70" y1="383.9" x2="79" y2="383.9" stroke="#1c6088" stroke-width="1"/>
<line x1="70.5" y1="383.1" x2="70.5" y2="393.2" stroke="#1c6088" stroke-width="1"/>
<line x1="79" y1="384.6" x2="88" y2="384.6" stroke="#1c6088" stroke-width="1"/>
<line x1="79.5" y1="383.9" x2="79.5" y2="393.2" stroke="#1c6088" stroke-width="1"/>
<line x1="88" y1="386.4" x2="97" y2="386.4" stroke="#1c6088" stroke-width="1"/>
<line x1="88.5" y1="384.6" x2="88.5" y2="393.2" stroke="#1c6088" stroke-width="1"/>
<line x1="97" y1="388.4" x2="106" y2="388.4" stroke="#1c6088" stroke-width="1"/>
<line x1="97.5" y1="386.4" x2="97.5" y2="393.2" stroke="#1c6088" stroke-width="1"/>
<line x1="106" y1="391.3" x2="115" y2="391.3" stroke="#1c6088" stroke-width="1"/>
<line x1="106.5" y1="388.4" x2="106.5" y2="393.2" stroke="#1c6088" stroke-width="1"/>
<line x1="115" y1="392.1" x2="124" y2="392.1" stroke="#1c6088" stroke-width="1"/>
<line x1="115.5" y1="391.3" x2="115.5" y2="393.2" stroke="#1c6088" stroke-width="1"/>
<line x1="124" y1="393.5" x2="133" y2="393.5" stroke="#1c6088" stroke-width="1"/>
<line x1="124.5" y1="392.1" x2="124.5" y2="393.5" stroke="#1c6088" stroke-width="1"/>
<line x1="133" y1="394" x2="142" y2="394" stroke="#1c6088" stroke-width="1"/>
<line x1="133.5" y1="393.2" x2="133.5" y2="394" stroke="#1c6088" stroke-width="1"/>
<line x1="142" y1="394" x2="151" y2="394" stroke="#1c6088" stroke-width="1"/>
<line x1="142.5" y1="393.2" x2="142.5" y2="394" stroke="#1c6088" stroke-width="1"/>
<line x1="151" y1="394.5" x2="160" y2="394.5" stroke="#1c6088" stroke-width="1"/>
<line x1="151.5" y1="393.2" x2="151.5" y2="394.5" stroke="#1c6088" stroke-width="1"/>
<line x1="160" y1="395" x2="169" y2="395" stroke="#1c6088" stroke-width="1"/>
<line x1="160.5" y1="393.2" x2="160.5" y2="395" stroke="#1c6088" stroke-width="1"/>
<line x1="169" y1="395.2" x2="178" y2="395.2" stroke="#1c6088" stroke-width="1"/>
<line x1="169.5" y1="393.2" x2="169.5" y2="395.2" stroke="#1c6088" stroke-width="1"/>
<line x1="178" y1="395.2" x2="187" y2="395.2" stroke="#1c6088" stroke-width="1"/>
<line x1="178.5" y1="393.2" x2="178.5" y2="395.2" stroke="#1c6088" stroke-width="1"/>
<line x1="187" y1="394.5" x2="196" y2="394.5" stroke="#1c6088" stroke-width="1"/>
<line x1="187.5" y1="393.2" x2="187.5" y2="395.2" stroke="#1c6088" stroke-width="1"/>
<line x1="196" y1="394.4" x2="205" y2="394.4" stroke="#1c6088" stroke-width="1"/>
<line x1="196.5" y1="393.2" x2="196.5" y2="394.5" stroke="#1c6088" stroke-width="1"/>
<line x1="205" y1="394.2" x2="214" y2="394.2" stroke="#1c6088" stroke-width="1"/>
<line x1="205.5" y1="393.2" x2="205.5" y2="394.4" stroke="#1c6088" stroke-width="1"/>
<line x1="214" y1="393.7" x2="223" y2="393.7" stroke="#1c6088" stroke-width="1"/>
<line x1="214.5" y1="393.2" x2="214.5" y2="394.2" stroke="#1c6088" stroke-width="1"/>
<line x1="223" y1="391.9" x2="232" y2="391.9" stroke="#1c6088" stroke-width="1"/>
<line x1="223.5" y1="391.9" x2="223.5" y2="393.7" stroke="#1c6088" stroke-width="1"/>
<line x1="232" y1="390.2" x2="241" y2="390.2" stroke="#1c6088" stroke-width="1"/>
<line x1="232.5" y1="390.2" x2="232.5" y2="393.2" stroke="#1c6088" stroke-width="1"/>
<line x1="241" y1="388.9" x2="250" y2="388.9" stroke="#1c6088" stroke-width="1"/>
<line x1="241.5" y1="388.9" x2="241.5" y2="393.2" stroke="#1c6088" stroke-width="1"/>
<line x1="250" y1="388.9" x2="259" y2="388.9" stroke="#1c6088" stroke-width="1"/>
<line x1="250.5" y1="388.9" x2="250.5" y2="393.2" stroke="#1c6088" stroke-width="1"/>
<line x1="259" y1="390.2" x2="268" y2="390.2" stroke="#1c6088" stroke-width="1"/>
<line x1="259.5" y1="388.9" x2="259.5" y2="393.2" stroke="#1c6088" stroke-width="1"/>
<line x1="268" y1="391.9" x2="277" y2="391.9" stroke="#1c6088" stroke-width="1"/>
<line x1="268.5" y1="390.2" x2="268.5" y2="393.2" stroke="#1c6088" stroke-width="1"/>
<line x1="277" y1="391.2" x2="286" y2="391.2" stroke="#1c6088" stroke-width="1"/>
<line x1="277.5" y1="391.2" x2="277.5" y2="393.2" stroke="#1c6088" stroke-width="1"/>
<line x1="286" y1="391.2" x2="295" y2="391.2" stroke="#1c6088" stroke-width="1"/>
<line x1="286.5" y1="391.2" x2="286.5" y2="393.2" stroke="#1c6088" stroke-width="1"/>
<line x1="295" y1="395.7" x2="304" y2="395.7" stroke="#1c6088" stroke-width="1"/>
<line x1="295.5" y1="391.2" x2="295.5" y2="395.7" stroke="#1c6088" stroke-width="1"/>
<line x1="304" y1="397.7" x2="313" y2="397.7" stroke="#1c6088" stroke-width="1"/>
<line x1="304.5" y1="393.2" x2="304.5" y2="397.7" stroke="#1c6088" stroke-width="1"/>
<line x1="313" y1="399.9" x2="322" y2="399.9" stroke="#1c6088" stroke-width="1"/>
<line x1="313.5" y1="393.2" x2="313.5" y2="399.9" stroke="#1c6088" stroke-width="1"/>
<line x1="322" y1="403.1" x2="331" y2="403.1" stroke="#1c6088" stroke-width="1"/>
<line x1="322.5" y1="393.2" x2="322.5" y2="403.1" stroke="#1c6088" stroke-width="1"/>
<line x1="331" y1="403.6" x2="340" y2="403.6" stroke="#1c6088" stroke-width="1"/>
<line x1="331.5" y1="393.2" x2="331.5" y2="403.6" stroke="#1c6088" stroke-width="1"/>
<line x1="340" y1="403.6" x2="349" y2="403.6" stroke="#1c6088" stroke-width="1"/>
<line x1="340.5" y1="393.2" x2="340.5" y2="403.6" stroke="#1c6088" stroke-width="1"/>
<line x1="349" y1="403.6" x2="358" y2="403.6" stroke="#1c6088" stroke-width="1"/>
<line x1="349.5" y1="393.2" x2="349.5" y2="403.6" stroke="#1c6088" stroke-width="1"/>
<line x1="358" y1="404.4" x2="367" y2="404.4" stroke="#1c6088" stroke-width="1"/>
<line x1="358.5" y1="393.2" x2="358.5" y2="404.4" stroke="#1c6088" stroke-width="1"/>
<line x1="367" y1="404.9" x2="376" y2="404.9" stroke="#1c6088" stroke-width="1"/>
<line x1="367.5" y1="393.2" x2="367.5" y2="404.9" stroke="#1c6088" stroke-width="1"/>
<line x1="376" y1="406.4" x2="385" y2="406.4" stroke="#1c6088" stroke-width="1"/>
<line x1="376.5" y1="393.2" x2="376.5" y2="406.4" stroke="#1c6088" stroke-width="1"/>
<line x1="385" y1="407.4" x2="394" y2="407.4" stroke="#1c6088" stroke-width="1"/>
<line x1="385.5" y1="393.2" x2="385.5" y2="407.4" stroke="#1c6088" stroke-width="1"/>
<line x1="394" y1="407.4" x2="403" y2="407.4" stroke="#1c6088" stroke-width="1"/>
<line x1="394.5" y1="393.2" x2="394.5" y2="407.4" stroke="#1c6088" stroke-width="1"/>
<line x1="403" y1="407.4" x2="412" y2="407.4" stroke="#1c6088" stroke-width="1"/>
<line x1="403.5" y1="393.2" x2="403.5" y2="407.4" stroke="#1c6088" stroke-width="1"/>
<line x1="412" y1="409.4" x2="421" y2="409.4" stroke="#1c6088" stroke-width="1"/>
<line x1="412.5" y1="393.2" x2="412.5" y2="409.4" stroke="#1c6088" stroke-width="1"/>
<line x1="421" y1="409.4" x2="430" y2="409.4" stroke="#1c6088" stroke-width="1"/>
<line x1="421.5" y1="393.2" x2="421.5" y2="409.4" stroke="#1c6088" stroke-width="1"/>
<line x1="430" y1="409.4" x2="439" y2="409.4" stroke="#1c6088" stroke-width="1"/>
<line x1="430.5" y1="393.2" x2="430.5" y2="409.4" stroke="#1c6088" stroke-width="1"/>
<line x1="439" y1="408.6" x2="448" y2="408.6" stroke="#1c6088" stroke-width="1"/>
<line x1="439.5" y1="393.2" x2="439.5" y2="409.4" stroke="#1c6088" stroke-width="1"/>
<line x1="448" y1="405.6" x2="457" y2="405.6" stroke="#1c6088" stroke-width="1"/>
<line x1="448.5" y1="393.2" x2="448.5" y2="408.6" stroke="#1c6088" stroke-width="1"/>
<line x1="457" y1="404.4" x2="466" y2="404.4" stroke="#1c6088" stroke-width="1"/>
<line x1="457.5" y1="393.2" x2="457.5" y2="405.6" stroke="#1c6088" stroke-width="1"/>
<line x1="466" y1="403.1" x2="475" y2="403.1" stroke="#1c6088" stroke-width="1"/>
<line x1="466.5" y1="393.2" x2="466.5" y2="404.4" stroke="#1c6088" stroke-width="1"/>
<line x1="475" y1="401.4" x2="484" y2="401.4" stroke="#1c6088" stroke-width="1"/>
<line x1="475.5" y1="393.2" x2="475.5" y2="403.1" stroke="#1c6088" stroke-width="1"/>
<line x1="484" y1="399.4" x2="493" y2="399.4" stroke="#1c6088" stroke-width="1"/>
<line x1="484.5" y1="393.2" x2="484.5" y2="401.4" stroke="#1c6088" stroke-width="1"/>
<line x1="493" y1="395.7" x2="502" y2="395.7" stroke="#1c6088" stroke-width="1"/>
<line x1="493.5" y1="393.2" x2="493.5" y2="399.4" stroke="#1c6088" stroke-width="1"/>
<line x1="502" y1="393.9" x2="511" y2="393.9" stroke="#1c6088" stroke-width="1"/>
<line x1="502.5" y1="393.2" x2="502.5" y2="395.7" stroke="#1c6088" stroke-width="1"/>
<line x1="511" y1="390.7" x2="520" y2="390.7" stroke="#1c6088" stroke-width="1"/>
<line x1="511.5" y1="390.7" x2="511.5" y2="393.9" stroke="#1c6088" stroke-width="1"/>
<line x1="520" y1="390.7" x2="529" y2="390.7" stroke="#1c6088" stroke-width="1"/>
<line x1="520.5" y1="390.7" x2="520.5" y2="393.2" stroke="#1c6088" stroke-width="1"/>
<line x1="529" y1="389.4" x2="538" y2="389.4" stroke="#1c6088" stroke-width="1"/>
<line x1="529.5" y1="389.4" x2="529.5" y2="393.2" stroke="#1c6088" stroke-width="1"/>
<line x1="538" y1="387.4" x2="547" y2="387.4" stroke="#1c6088" stroke-width="1"/>
<line x1="538.5" y1="387.4" x2="538.5" y2="393.2" stroke="#1c6088" stroke-width="1"/>
<line x1="547" y1="386.4" x2="556" y2="386.4" stroke="#1c6088" stroke-width="1"/>
<line x1="547.5" y1="386.4" x2="547.5" y2="393.2" stroke="#1c6088" stroke-width="1"/>
<line x1="556" y1="386.4" x2="565" y2="386.4" stroke="#1c6088" stroke-width="1"/>
<line x1="556.5" y1="386.4" x2="556.5" y2="393.2" stroke="#1c6088" stroke-width="1"/>
<line x1="565" y1="386.4" x2="574" y2="386.4" stroke="#1c6088" stroke-width="1"/>
<line x1="565.5" y1="386.4" x2="565.5" y2="393.2" stroke="#1c6088" stroke-width="1"/>
<line x1="574" y1="386.4" x2="583" y2="386.4" stroke="#1c6088" stroke-width="1"/>
<line x1="574.5" y1="386.4" x2="574.5" y2="393.2" stroke="#1c6088" stroke-width="1"/>
<line x1="583" y1="386.4" x2="592" y2="386.4" stroke="#1c6088" stroke-width="1"/>
<line x1="583.5" y1="386.4" x2="583.5" y2="393.2" stroke="#1c6088" stroke-width="1"/>
<line x1="592" y1="386.4" x2="601" y2="386.4" stroke="#1c6088" stroke-width="1"/>
<line x1="592.5" y1="386.4" x2="592.5" y2="393.2" stroke="#1c6088" stroke-width="1"/>
<line x1="601" y1="387.4" x2="610" y2="387.4" stroke="#1c6088" stroke-width="1"/>
<line x1="601.5" y1="386.4" x2="601.5" y2="393.2" stroke="#1c6088" stroke-width="1"/>
<line x1="610" y1="388.2" x2="619" y2="388.2" stroke="#1c6088" stroke-width="1"/>
<line x1="610.5" y1="387.4" x2="610.5" y2="393.2" stroke="#1c6088" stroke-width="1"/>
<line x1="619" y1="389.4" x2="628" y2="389.4" stroke="#1c6088" stroke-width="1"/>
<line x1="619.5" y1="388.2" x2="619.5" y2="393.2" stroke="#1c6088" stroke-width="1"/>
<line x1="628" y1="389.4" x2="637" y2="389.4" stroke="#1c6088" stroke-width="1"/>
<line x1="628.5" y1="389.4" x2="628.5" y2="393.2" stroke="#1c6088" stroke-width="1"/>
<line x1="637" y1="390.7" x2="646" y2="390.7" stroke="#1c6088" stroke-width="1"/>
<line x1="637.5" y1="389.4" x2="637.5" y2="393.2" stroke="#1c6088" stroke-width="1"/>
<line x1="646" y1="390.7" x2="655" y2="390.7" stroke="#1c6088" stroke-width="1"/>
<line x1="646.5" y1="390.7" x2="646.5" y2="393.2" stroke="#1c6088" stroke-width="1"/>
<line x1="655" y1="390.7" x2="664" y2="390.7" stroke="#1c6088" stroke-width="1"/>
<line x1="655.5" y1="390.7" x2="655.5" y2="393.2" stroke="#1c6088" stroke-width="1"/>
<line x1="664" y1="388.2" x2="673" y2="388.2" stroke="#1c6088" stroke-width="1"/>
<line x1="664.5" y1="388.2" x2="664.5" y2="393.2" stroke="#1c6088" stroke-width="1"/>
<line x1="673" y1="388.2" x2="682" y2="388.2" stroke="#1c6088" stroke-width="1"/>
<line x1="673.5" y1="388.2" x2="673.5" y2="393.2" stroke="#1c6088" stroke-width="1"/>
<line x1="682" y1="388.2" x2="691" y2="388.2" stroke="#1c6088" stroke-width="1"/>
<line x1="682.5" y1="388.2" x2="682.5" y2="393.2" stroke="#1c6088" stroke-width="1"/>
<line x1="691" y1="388.2" x2="700" y2="388.2" stroke="#1c6088" stroke-width="1"/>
<line x1="691.5" y1="388.2" x2="691.5" y2="393.2" stroke="#1c6088" stroke-width="1"/>
<line x1="700" y1="388.2" x2="709" y2="388.2" stroke="#1c6088" stroke-width="1"/>
<line x1="700.5" y1="388.2" x2="700.5" y2="393.2" stroke="#1c6088" stroke-width="1"/>
<line x1="709" y1="389.4" x2="718" y2="389.4" stroke="#1c6088" stroke-width="1"/>
<line x1="709.5" y1="388.2" x2="709.5" y2="393.2" stroke="#1c6088" stroke-width="1"/>
<line x1="718" y1="389.4" x2="727" y2="389.4" stroke="#1c6088" stroke-width="1"/>
<line x1="718.5" y1="389.4" x2="718.5" y2="393.2" stroke="#1c6088" stroke-width="1"/>
<line x1="727" y1="391.4" x2="736" y2="391.4" stroke="#1c6088" stroke-width="1"/>
<line x1="727.5" y1="389.4" x2="727.5" y2="393.2" stroke="#1c6088" stroke-width="1"/>
<line x1="736" y1="393.7" x2="745" y2="393.7" stroke="#1c6088" stroke-width="1"/>
<line x1="736.5" y1="391.4" x2="736.5" y2="393.7" stroke="#1c6088" stroke-width="1"/>
<line x1="745" y1="393.7" x2="754" y2="393.7" stroke="#1c6088" stroke-width="1"/>
<line x1="754" y1="392.3" x2="763" y2="392.3" stroke="#1c6088" stroke-width="1"/>
<line x1="754.5" y1="392.3" x2="754.5" y2="393.7" stroke="#1c6088" stroke-width="1"/>
<line x1="763" y1="391.2" x2="772" y2="391.2" stroke="#1c6088" stroke-width="1"/>
<line x1="763.5" y1="391.2" x2="763.5" y2="393.2" stroke="#1c6088" stroke-width="1"/>
<line x1="772" y1="390.2" x2="781" y2="390.2" stroke="#1c6088" stroke-width="1"/>
<line x1="772.5" y1="390.2" x2="772.5" y2="393.2" stroke="#1c6088" stroke-width="1"/>
<line x1="781" y1="390.2" x2="790" y2="390.2" stroke="#1c6088" stroke-width="1"/>
<line x1="781.5" y1="390.2" x2="781.5" y2="393.2" stroke="#1c6088" stroke-width="1"/>
<line x1="790" y1="389.2" x2="799" y2="389.2" stroke="#1c6088" stroke-width="1"/>
<line x1="790.5" y1="389.2" x2="790.5" y2="393.2" stroke="#1c6088" stroke-width="1"/>
<line x1="799" y1="388.3" x2="808" y2="388.3" stroke="#1c6088" stroke-width="1"/>
<line x1="799.5" y1="388.3" x2="799.5" y2="393.2" stroke="#1c6088" stroke-width="1"/>
<line x1="808" y1="388.3" x2="808" y2="393.2" stroke="#1c6088" stroke-width="1"/>
<polyline points="40.7,394.1 63,388.4 82.7,382.6 110.7,379.3 130,377 160,376 200,378.5 234.8,380.7 252.3,379.5 266.7,377.5 289.7,377 317.1,379.5 339.6,385.7 359.5,391.9 370,394.4 385,400.7 398.4,406.4 416.4,415.1 434.3,422.6 443.6,426.1 452.5,428.6 461.5,431.1 470.5,433.6 479.5,435.1 488.5,436.1 497.4,436.8 506.4,436.8 515.4,436.3 524.6,436.3 533.6,435.1 542.6,433.6 551.5,432.3 560.5,430.6 569.5,428.6 578.5,427.3 596.5,423.1 614.4,420.1 623.4,420.1 641.3,418.1 659.6,415.6 677.5,413.6 695.5,411.9 713.4,410.1 731.6,408.1 749.6,408.5 758.6,408.5 767.5,408.5 776.4,407.6 785.3,406.5 794.2,405.5 803.4,404.6" fill="none" stroke="#f01818" stroke-width="1.2" stroke-linejoin="round"/>
<polyline points="40.7,384.2 61.3,379.3 75,376 90,374.5" fill="none" stroke="#000" stroke-width="1.65" stroke-linejoin="round"/>
<polyline points="100,376.5 115,378.5 125,379.6 160,380 182.4,382.4 210,382 232.3,379.5 250,377 266.7,375.7 282.2,374 289.7,375 299.7,379.5 317.1,385.7 327,391.9 339.6,395.7 349.5,398.2 359.5,401.9 370,406.4 385,413.1 398.4,419.9 407.4,423.8 416.4,429.3 425.4,433.1 434.3,436.8 443.6,440 452.5,440.6 461.5,442.5 470.5,443.5 479.5,443.5 488.5,442.5 497.4,440.6 506.4,437.6 515.4,434.3 524.6,433.1 533.6,431.3 542.6,428.6 551.5,425.6 560.5,423.6 569.5,421.4 578.5,420.4 587.5,418.4 596.5,416.1 605.4,416.1 614.4,416.4 623.4,416.4 632.4,415.4 641.3,415.1 650.3,415.1 659.6,413.1 668.5,411.1 677.5,409.1 686.5,408.1 695.5,407.1 704.4,406.4 713.4,406.4 722.4,405.6 731.6,406.6 740.6,408.6 749.6,409.5 758.6,407 767.5,406.1 776.4,404.3 785.3,403.3 794.2,401.3 803.4,399.6" fill="none" stroke="#000" stroke-width="1.65" stroke-linejoin="round"/>
</g>
<g clip-path="url(#c_adx)">
<polyline points="40.7,488.9 47.5,491.4 56.5,482.2 65.5,485.9 74.5,489.1 83.5,489.6 92.5,492.1 101.5,497.1 110.5,500.1 119.5,502.6 128.5,492.1 137.5,485.2 146.5,488.4 155.5,491.4 164.5,495.1 173.5,496.4 182.5,498.4 191.5,489.1 200.5,490.9 209.5,493.4 218.5,485.4 227.5,479.7 236.5,478.4 245.5,474.2 254.5,480.2 263.5,490.9 272.5,495.1 281.5,487.1 290.5,491.4 299.5,499.1 308.5,502.9 317.5,505.9 326.5,509.6 335.5,510.3 344.5,507.1 353.5,507.1 362.5,511.3 371.5,513.3 380.5,513.3 389.5,515.3 398.5,517.1 407.5,519.1 416.5,522.1 425.5,523.3 434.5,527 443.5,527 452.5,520.8 461.5,523.3 470.5,525.3 479.5,522.1 488.5,520.8 497.5,517.1 506.5,518.3 515.5,514.1 524.5,517.3 533.5,518.3 542.5,515.3 551.5,509.3 560.5,511.3 569.5,513.3 578.5,515.3 587.5,511.3 596.5,508.3 605.5,510.3 614.5,512.3 623.5,509.3 632.5,511.3 641.5,509.7 650.5,512.2 659.5,509.2 668.5,498.1 677.5,499.9 686.5,503.3 695.5,503.3 704.5,505.3 713.5,507.3 722.5,506.5 731.5,511.5 740.5,513.4 749.5,515.4 758.5,502.3 767.5,498.1 776.5,501.1 785.5,497.1 794.5,498.1 803.5,478.9" fill="none" stroke="#1e7a45" stroke-width="1.2" stroke-linejoin="round"/>
<polyline points="40.7,507.8 47.5,505.4 56.5,508.3 65.5,511.6 74.5,513.3 83.5,515.3 92.5,511.3 101.5,509.1 110.5,500.1 119.5,502.6 128.5,505.9 137.5,509.6 146.5,512.1 155.5,514.6 164.5,510.3 173.5,508.3 182.5,505.9 191.5,509.6 200.5,511.3 209.5,510.3 218.5,513.8 227.5,516.3 236.5,518.3 245.5,520.3 254.5,518.3 263.5,507.1 272.5,509.6 281.5,513.3 290.5,516.6 299.5,496.6 308.5,497.4 317.5,494.1 326.5,489.1 335.5,491.4 344.5,495.4 353.5,498.4 362.5,481.4 371.5,480.4 380.5,485.4 389.5,478.4 398.5,477.2 407.5,467.2 416.5,457.2 425.5,461.5 434.5,460.5 443.5,464.7 452.5,469.7 461.5,468.4 470.5,462.2 479.5,467.2 488.5,471.4 497.5,475.4 506.5,477.4 515.5,480.2 524.5,481.2 533.5,483.4 542.5,487.4 551.5,491.4 560.5,489.6 569.5,489.6 578.5,487.4 587.5,490.9 596.5,494.6 605.5,490.4 614.5,484.4 623.5,488.4 632.5,490.4 641.5,492.9 650.5,494.9 659.5,498.6 668.5,502.1 677.5,503.3 686.5,494.2 695.5,497.9 704.5,500.1 713.5,495.2 722.5,498.1 731.5,479.3 740.5,477.4 749.5,479.3 758.5,485 767.5,489.5 776.5,484.3 785.5,487.5 794.5,490.5 803.5,496.1" fill="none" stroke="#aa2050" stroke-width="1.2" stroke-linejoin="round"/>
<polyline points="40.7,505.9 47.5,505.5 56.5,505.1 65.5,504.3 74.5,503.4 83.5,502.4 92.5,502.4 101.5,503.9 110.5,506.6 119.5,509.3 128.5,510.3 137.5,508.3 146.5,507.1 155.5,506.3 164.5,507.1 173.5,507.6 182.5,509.1 191.5,508.3 200.5,508.3 209.5,507.8 218.5,505.9 227.5,502.9 236.5,499.6 245.5,496.6 254.5,494.1 263.5,495.1 272.5,497.1 281.5,496.4 290.5,495.4 299.5,498.4 308.5,501.4 317.5,503.4 326.5,503.4 335.5,503.4 344.5,504.6 353.5,505.4 362.5,504.6 371.5,502.6 380.5,501.4 389.5,498.4 398.5,496.4 407.5,492.1 416.5,487.6 425.5,483.4 434.5,478.4 443.5,474.2 452.5,470.9 461.5,468.4 470.5,465.5 479.5,463.5 488.5,462.5 497.5,461.5 506.5,461.5 515.5,462.2 524.5,463.2 533.5,463.2 542.5,464.5 551.5,467.7 560.5,469.7 569.5,471.4 578.5,472.7 587.5,474.7 596.5,476.7 605.5,478.4 614.5,479.4 623.5,480.7 632.5,482.7 641.5,484 650.5,485 659.5,488 668.5,491.9 677.5,494.9 686.5,497.1 695.5,500.3 704.5,502.8 713.5,504.8 722.5,505.3 731.5,504.1 740.5,501.1 749.5,499.1 758.5,500.1 767.5,502.3 776.5,503.6 785.5,505.3 794.5,507 803.5,507" fill="none" stroke="#000" stroke-width="1.65" stroke-linejoin="round"/>
</g>
<g clip-path="url(#c_ppo)">
<rect x="34" y="551.9" width="9" height="7.1" fill="#4fa2cd"/>
<rect x="43" y="551.4" width="9" height="7.6" fill="#4fa2cd"/>
<rect x="52" y="550.6" width="9" height="8.4" fill="#4fa2cd"/>
<rect x="61" y="550.6" width="9" height="8.4" fill="#4fa2cd"/>
<rect x="70" y="551.1" width="9" height="7.9" fill="#4fa2cd"/>
<rect x="79" y="551.4" width="9" height="7.6" fill="#4fa2cd"/>
<rect x="88" y="552.6" width="9" height="6.4" fill="#4fa2cd"/>
<rect x="97" y="555.2" width="9" height="3.8" fill="#4fa2cd"/>
<rect x="106" y="557.3" width="9" height="1.7" fill="#4fa2cd"/>
<rect x="115" y="558.3" width="9" height="0.7" fill="#4fa2cd"/>
<rect x="124" y="559" width="9" height="0.7" fill="#4fa2cd"/>
<rect x="133" y="559" width="9" height="0.7" fill="#4fa2cd"/>
<rect x="142" y="559" width="9" height="0.7" fill="#4fa2cd"/>
<rect x="151" y="559" width="9" height="1.1" fill="#4fa2cd"/>
<rect x="160" y="559" width="9" height="0.9" fill="#4fa2cd"/>
<rect x="169" y="559" width="9" height="0.9" fill="#4fa2cd"/>
<rect x="178" y="559" width="9" height="2.2" fill="#4fa2cd"/>
<rect x="187" y="559" width="9" height="0.9" fill="#4fa2cd"/>
<rect x="196" y="559" width="9" height="0.9" fill="#4fa2cd"/>
<rect x="205" y="559" width="9" height="0.9" fill="#4fa2cd"/>
<rect x="223" y="557.9" width="9" height="1.1" fill="#4fa2cd"/>
<rect x="232" y="556.2" width="9" height="2.8" fill="#4fa2cd"/>
<rect x="241" y="556.2" width="9" height="2.8" fill="#4fa2cd"/>
<rect x="250" y="556.2" width="9" height="2.8" fill="#4fa2cd"/>
<rect x="259" y="556.9" width="9" height="2.1" fill="#4fa2cd"/>
<rect x="268" y="557.9" width="9" height="1.1" fill="#4fa2cd"/>
<rect x="277" y="557.4" width="9" height="1.6" fill="#4fa2cd"/>
<rect x="286" y="557.4" width="9" height="1.6" fill="#4fa2cd"/>
<rect x="295" y="559" width="9" height="1.4" fill="#4fa2cd"/>
<rect x="304" y="559" width="9" height="3.4" fill="#4fa2cd"/>
<rect x="313" y="559" width="9" height="5.2" fill="#4fa2cd"/>
<rect x="322" y="559" width="9" height="7.2" fill="#4fa2cd"/>
<rect x="331" y="559" width="9" height="7.9" fill="#4fa2cd"/>
<rect x="340" y="559" width="9" height="7.2" fill="#4fa2cd"/>
<rect x="349" y="559" width="9" height="7.9" fill="#4fa2cd"/>
<rect x="358" y="559" width="9" height="8.9" fill="#4fa2cd"/>
<rect x="367" y="559" width="9" height="10.4" fill="#4fa2cd"/>
<rect x="376" y="559" width="9" height="11.4" fill="#4fa2cd"/>
<rect x="385" y="559" width="9" height="11.4" fill="#4fa2cd"/>
<rect x="394" y="559" width="9" height="12.9" fill="#4fa2cd"/>
<rect x="403" y="559" width="9" height="12.9" fill="#4fa2cd"/>
<rect x="412" y="559" width="9" height="15.4" fill="#4fa2cd"/>
<rect x="421" y="559" width="9" height="15.4" fill="#4fa2cd"/>
<rect x="430" y="559" width="9" height="16.6" fill="#4fa2cd"/>
<rect x="439" y="559" width="9" height="16.6" fill="#4fa2cd"/>
<rect x="448" y="559" width="9" height="13.9" fill="#4fa2cd"/>
<rect x="457" y="559" width="9" height="13.4" fill="#4fa2cd"/>
<rect x="466" y="559" width="9" height="12.1" fill="#4fa2cd"/>
<rect x="475" y="559" width="9" height="10.4" fill="#4fa2cd"/>
<rect x="484" y="559" width="9" height="8.4" fill="#4fa2cd"/>
<rect x="493" y="559" width="9" height="5.4" fill="#4fa2cd"/>
<rect x="502" y="559" width="9" height="2.2" fill="#4fa2cd"/>
<rect x="511" y="557.9" width="9" height="1.1" fill="#4fa2cd"/>
<rect x="520" y="557.4" width="9" height="1.6" fill="#4fa2cd"/>
<rect x="529" y="556.9" width="9" height="2.1" fill="#4fa2cd"/>
<rect x="538" y="554.2" width="9" height="4.8" fill="#4fa2cd"/>
<rect x="547" y="553.2" width="9" height="5.8" fill="#4fa2cd"/>
<rect x="556" y="552.4" width="9" height="6.6" fill="#4fa2cd"/>
<rect x="565" y="552.4" width="9" height="6.6" fill="#4fa2cd"/>
<rect x="574" y="552.4" width="9" height="6.6" fill="#4fa2cd"/>
<rect x="583" y="552.4" width="9" height="6.6" fill="#4fa2cd"/>
<rect x="592" y="552.4" width="9" height="6.6" fill="#4fa2cd"/>
<rect x="601" y="553.2" width="9" height="5.8" fill="#4fa2cd"/>
<rect x="610" y="554.2" width="9" height="4.8" fill="#4fa2cd"/>
<rect x="619" y="554.9" width="9" height="4.1" fill="#4fa2cd"/>
<rect x="628" y="555.4" width="9" height="3.6" fill="#4fa2cd"/>
<rect x="637" y="556.2" width="9" height="2.8" fill="#4fa2cd"/>
<rect x="646" y="557.4" width="9" height="1.6" fill="#4fa2cd"/>
<rect x="655" y="556.2" width="9" height="2.8" fill="#4fa2cd"/>
<rect x="664" y="554.2" width="9" height="4.8" fill="#4fa2cd"/>
<rect x="673" y="553.2" width="9" height="5.8" fill="#4fa2cd"/>
<rect x="682" y="553.2" width="9" height="5.8" fill="#4fa2cd"/>
<rect x="691" y="553.2" width="9" height="5.8" fill="#4fa2cd"/>
<rect x="700" y="553.2" width="9" height="5.8" fill="#4fa2cd"/>
<rect x="709" y="554.2" width="9" height="4.8" fill="#4fa2cd"/>
<rect x="718" y="554.2" width="9" height="4.8" fill="#4fa2cd"/>
<rect x="727" y="556.2" width="9" height="2.8" fill="#4fa2cd"/>
<rect x="745" y="559" width="9" height="1.4" fill="#4fa2cd"/>
<rect x="754" y="558.2" width="9" height="0.8" fill="#4fa2cd"/>
<rect x="763" y="557.3" width="9" height="1.7" fill="#4fa2cd"/>
<rect x="772" y="556.4" width="9" height="2.6" fill="#4fa2cd"/>
<rect x="781" y="555.2" width="9" height="3.8" fill="#4fa2cd"/>
<rect x="790" y="553.3" width="9" height="5.7" fill="#4fa2cd"/>
<rect x="799" y="552.3" width="9" height="6.7" fill="#4fa2cd"/>
<line x1="34" y1="551.9" x2="43" y2="551.9" stroke="#1c6088" stroke-width="1"/>
<line x1="43" y1="551.4" x2="52" y2="551.4" stroke="#1c6088" stroke-width="1"/>
<line x1="43.5" y1="551.4" x2="43.5" y2="559" stroke="#1c6088" stroke-width="1"/>
<line x1="52" y1="550.6" x2="61" y2="550.6" stroke="#1c6088" stroke-width="1"/>
<line x1="52.5" y1="550.6" x2="52.5" y2="559" stroke="#1c6088" stroke-width="1"/>
<line x1="61" y1="550.6" x2="70" y2="550.6" stroke="#1c6088" stroke-width="1"/>
<line x1="61.5" y1="550.6" x2="61.5" y2="559" stroke="#1c6088" stroke-width="1"/>
<line x1="70" y1="551.1" x2="79" y2="551.1" stroke="#1c6088" stroke-width="1"/>
<line x1="70.5" y1="550.6" x2="70.5" y2="559" stroke="#1c6088" stroke-width="1"/>
<line x1="79" y1="551.4" x2="88" y2="551.4" stroke="#1c6088" stroke-width="1"/>
<line x1="79.5" y1="551.1" x2="79.5" y2="559" stroke="#1c6088" stroke-width="1"/>
<line x1="88" y1="552.6" x2="97" y2="552.6" stroke="#1c6088" stroke-width="1"/>
<line x1="88.5" y1="551.4" x2="88.5" y2="559" stroke="#1c6088" stroke-width="1"/>
<line x1="97" y1="555.2" x2="106" y2="555.2" stroke="#1c6088" stroke-width="1"/>
<line x1="97.5" y1="552.6" x2="97.5" y2="559" stroke="#1c6088" stroke-width="1"/>
<line x1="106" y1="557.3" x2="115" y2="557.3" stroke="#1c6088" stroke-width="1"/>
<line x1="106.5" y1="555.2" x2="106.5" y2="559" stroke="#1c6088" stroke-width="1"/>
<line x1="115" y1="558.3" x2="124" y2="558.3" stroke="#1c6088" stroke-width="1"/>
<line x1="115.5" y1="557.3" x2="115.5" y2="559" stroke="#1c6088" stroke-width="1"/>
<line x1="124" y1="559.7" x2="133" y2="559.7" stroke="#1c6088" stroke-width="1"/>
<line x1="124.5" y1="558.3" x2="124.5" y2="559.7" stroke="#1c6088" stroke-width="1"/>
<line x1="133" y1="559.7" x2="142" y2="559.7" stroke="#1c6088" stroke-width="1"/>
<line x1="142" y1="559.7" x2="151" y2="559.7" stroke="#1c6088" stroke-width="1"/>
<line x1="151" y1="560.1" x2="160" y2="560.1" stroke="#1c6088" stroke-width="1"/>
<line x1="151.5" y1="559" x2="151.5" y2="560.1" stroke="#1c6088" stroke-width="1"/>
<line x1="160" y1="559.9" x2="169" y2="559.9" stroke="#1c6088" stroke-width="1"/>
<line x1="160.5" y1="559" x2="160.5" y2="560.1" stroke="#1c6088" stroke-width="1"/>
<line x1="169" y1="559.9" x2="178" y2="559.9" stroke="#1c6088" stroke-width="1"/>
<line x1="169.5" y1="559" x2="169.5" y2="559.9" stroke="#1c6088" stroke-width="1"/>
<line x1="178" y1="561.2" x2="187" y2="561.2" stroke="#1c6088" stroke-width="1"/>
<line x1="178.5" y1="559" x2="178.5" y2="561.2" stroke="#1c6088" stroke-width="1"/>
<line x1="187" y1="559.9" x2="196" y2="559.9" stroke="#1c6088" stroke-width="1"/>
<line x1="187.5" y1="559" x2="187.5" y2="561.2" stroke="#1c6088" stroke-width="1"/>
<line x1="196" y1="559.9" x2="205" y2="559.9" stroke="#1c6088" stroke-width="1"/>
<line x1="196.5" y1="559" x2="196.5" y2="559.9" stroke="#1c6088" stroke-width="1"/>
<line x1="205" y1="559.9" x2="214" y2="559.9" stroke="#1c6088" stroke-width="1"/>
<line x1="205.5" y1="559" x2="205.5" y2="559.9" stroke="#1c6088" stroke-width="1"/>
<line x1="214" y1="559.2" x2="223" y2="559.2" stroke="#1c6088" stroke-width="1"/>
<line x1="214.5" y1="559" x2="214.5" y2="559.9" stroke="#1c6088" stroke-width="1"/>
<line x1="223" y1="557.9" x2="232" y2="557.9" stroke="#1c6088" stroke-width="1"/>
<line x1="223.5" y1="557.9" x2="223.5" y2="559.2" stroke="#1c6088" stroke-width="1"/>
<line x1="232" y1="556.2" x2="241" y2="556.2" stroke="#1c6088" stroke-width="1"/>
<line x1="232.5" y1="556.2" x2="232.5" y2="559" stroke="#1c6088" stroke-width="1"/>
<line x1="241" y1="556.2" x2="250" y2="556.2" stroke="#1c6088" stroke-width="1"/>
<line x1="241.5" y1="556.2" x2="241.5" y2="559" stroke="#1c6088" stroke-width="1"/>
<line x1="250" y1="556.2" x2="259" y2="556.2" stroke="#1c6088" stroke-width="1"/>
<line x1="250.5" y1="556.2" x2="250.5" y2="559" stroke="#1c6088" stroke-width="1"/>
<line x1="259" y1="556.9" x2="268" y2="556.9" stroke="#1c6088" stroke-width="1"/>
<line x1="259.5" y1="556.2" x2="259.5" y2="559" stroke="#1c6088" stroke-width="1"/>
<line x1="268" y1="557.9" x2="277" y2="557.9" stroke="#1c6088" stroke-width="1"/>
<line x1="268.5" y1="556.9" x2="268.5" y2="559" stroke="#1c6088" stroke-width="1"/>
<line x1="277" y1="557.4" x2="286" y2="557.4" stroke="#1c6088" stroke-width="1"/>
<line x1="277.5" y1="557.4" x2="277.5" y2="559" stroke="#1c6088" stroke-width="1"/>
<line x1="286" y1="557.4" x2="295" y2="557.4" stroke="#1c6088" stroke-width="1"/>
<line x1="286.5" y1="557.4" x2="286.5" y2="559" stroke="#1c6088" stroke-width="1"/>
<line x1="295" y1="560.4" x2="304" y2="560.4" stroke="#1c6088" stroke-width="1"/>
<line x1="295.5" y1="557.4" x2="295.5" y2="560.4" stroke="#1c6088" stroke-width="1"/>
<line x1="304" y1="562.4" x2="313" y2="562.4" stroke="#1c6088" stroke-width="1"/>
<line x1="304.5" y1="559" x2="304.5" y2="562.4" stroke="#1c6088" stroke-width="1"/>
<line x1="313" y1="564.2" x2="322" y2="564.2" stroke="#1c6088" stroke-width="1"/>
<line x1="313.5" y1="559" x2="313.5" y2="564.2" stroke="#1c6088" stroke-width="1"/>
<line x1="322" y1="566.2" x2="331" y2="566.2" stroke="#1c6088" stroke-width="1"/>
<line x1="322.5" y1="559" x2="322.5" y2="566.2" stroke="#1c6088" stroke-width="1"/>
<line x1="331" y1="566.9" x2="340" y2="566.9" stroke="#1c6088" stroke-width="1"/>
<line x1="331.5" y1="559" x2="331.5" y2="566.9" stroke="#1c6088" stroke-width="1"/>
<line x1="340" y1="566.2" x2="349" y2="566.2" stroke="#1c6088" stroke-width="1"/>
<line x1="340.5" y1="559" x2="340.5" y2="566.9" stroke="#1c6088" stroke-width="1"/>
<line x1="349" y1="566.9" x2="358" y2="566.9" stroke="#1c6088" stroke-width="1"/>
<line x1="349.5" y1="559" x2="349.5" y2="566.9" stroke="#1c6088" stroke-width="1"/>
<line x1="358" y1="567.9" x2="367" y2="567.9" stroke="#1c6088" stroke-width="1"/>
<line x1="358.5" y1="559" x2="358.5" y2="567.9" stroke="#1c6088" stroke-width="1"/>
<line x1="367" y1="569.4" x2="376" y2="569.4" stroke="#1c6088" stroke-width="1"/>
<line x1="367.5" y1="559" x2="367.5" y2="569.4" stroke="#1c6088" stroke-width="1"/>
<line x1="376" y1="570.4" x2="385" y2="570.4" stroke="#1c6088" stroke-width="1"/>
<line x1="376.5" y1="559" x2="376.5" y2="570.4" stroke="#1c6088" stroke-width="1"/>
<line x1="385" y1="570.4" x2="394" y2="570.4" stroke="#1c6088" stroke-width="1"/>
<line x1="385.5" y1="559" x2="385.5" y2="570.4" stroke="#1c6088" stroke-width="1"/>
<line x1="394" y1="571.9" x2="403" y2="571.9" stroke="#1c6088" stroke-width="1"/>
<line x1="394.5" y1="559" x2="394.5" y2="571.9" stroke="#1c6088" stroke-width="1"/>
<line x1="403" y1="571.9" x2="412" y2="571.9" stroke="#1c6088" stroke-width="1"/>
<line x1="403.5" y1="559" x2="403.5" y2="571.9" stroke="#1c6088" stroke-width="1"/>
<line x1="412" y1="574.4" x2="421" y2="574.4" stroke="#1c6088" stroke-width="1"/>
<line x1="412.5" y1="559" x2="412.5" y2="574.4" stroke="#1c6088" stroke-width="1"/>
<line x1="421" y1="574.4" x2="430" y2="574.4" stroke="#1c6088" stroke-width="1"/>
<line x1="421.5" y1="559" x2="421.5" y2="574.4" stroke="#1c6088" stroke-width="1"/>
<line x1="430" y1="575.6" x2="439" y2="575.6" stroke="#1c6088" stroke-width="1"/>
<line x1="430.5" y1="559" x2="430.5" y2="575.6" stroke="#1c6088" stroke-width="1"/>
<line x1="439" y1="575.6" x2="448" y2="575.6" stroke="#1c6088" stroke-width="1"/>
<line x1="439.5" y1="559" x2="439.5" y2="575.6" stroke="#1c6088" stroke-width="1"/>
<line x1="448" y1="572.9" x2="457" y2="572.9" stroke="#1c6088" stroke-width="1"/>
<line x1="448.5" y1="559" x2="448.5" y2="575.6" stroke="#1c6088" stroke-width="1"/>
<line x1="457" y1="572.4" x2="466" y2="572.4" stroke="#1c6088" stroke-width="1"/>
<line x1="457.5" y1="559" x2="457.5" y2="572.9" stroke="#1c6088" stroke-width="1"/>
<line x1="466" y1="571.1" x2="475" y2="571.1" stroke="#1c6088" stroke-width="1"/>
<line x1="466.5" y1="559" x2="466.5" y2="572.4" stroke="#1c6088" stroke-width="1"/>
<line x1="475" y1="569.4" x2="484" y2="569.4" stroke="#1c6088" stroke-width="1"/>
<line x1="475.5" y1="559" x2="475.5" y2="571.1" stroke="#1c6088" stroke-width="1"/>
<line x1="484" y1="567.4" x2="493" y2="567.4" stroke="#1c6088" stroke-width="1"/>
<line x1="484.5" y1="559" x2="484.5" y2="569.4" stroke="#1c6088" stroke-width="1"/>
<line x1="493" y1="564.4" x2="502" y2="564.4" stroke="#1c6088" stroke-width="1"/>
<line x1="493.5" y1="559" x2="493.5" y2="567.4" stroke="#1c6088" stroke-width="1"/>
<line x1="502" y1="561.2" x2="511" y2="561.2" stroke="#1c6088" stroke-width="1"/>
<line x1="502.5" y1="559" x2="502.5" y2="564.4" stroke="#1c6088" stroke-width="1"/>
<line x1="511" y1="557.9" x2="520" y2="557.9" stroke="#1c6088" stroke-width="1"/>
<line x1="511.5" y1="557.9" x2="511.5" y2="561.2" stroke="#1c6088" stroke-width="1"/>
<line x1="520" y1="557.4" x2="529" y2="557.4" stroke="#1c6088" stroke-width="1"/>
<line x1="520.5" y1="557.4" x2="520.5" y2="559" stroke="#1c6088" stroke-width="1"/>
<line x1="529" y1="556.9" x2="538" y2="556.9" stroke="#1c6088" stroke-width="1"/>
<line x1="529.5" y1="556.9" x2="529.5" y2="559" stroke="#1c6088" stroke-width="1"/>
<line x1="538" y1="554.2" x2="547" y2="554.2" stroke="#1c6088" stroke-width="1"/>
<line x1="538.5" y1="554.2" x2="538.5" y2="559" stroke="#1c6088" stroke-width="1"/>
<line x1="547" y1="553.2" x2="556" y2="553.2" stroke="#1c6088" stroke-width="1"/>
<line x1="547.5" y1="553.2" x2="547.5" y2="559" stroke="#1c6088" stroke-width="1"/>
<line x1="556" y1="552.4" x2="565" y2="552.4" stroke="#1c6088" stroke-width="1"/>
<line x1="556.5" y1="552.4" x2="556.5" y2="559" stroke="#1c6088" stroke-width="1"/>
<line x1="565" y1="552.4" x2="574" y2="552.4" stroke="#1c6088" stroke-width="1"/>
<line x1="565.5" y1="552.4" x2="565.5" y2="559" stroke="#1c6088" stroke-width="1"/>
<line x1="574" y1="552.4" x2="583" y2="552.4" stroke="#1c6088" stroke-width="1"/>
<line x1="574.5" y1="552.4" x2="574.5" y2="559" stroke="#1c6088" stroke-width="1"/>
<line x1="583" y1="552.4" x2="592" y2="552.4" stroke="#1c6088" stroke-width="1"/>
<line x1="583.5" y1="552.4" x2="583.5" y2="559" stroke="#1c6088" stroke-width="1"/>
<line x1="592" y1="552.4" x2="601" y2="552.4" stroke="#1c6088" stroke-width="1"/>
<line x1="592.5" y1="552.4" x2="592.5" y2="559" stroke="#1c6088" stroke-width="1"/>
<line x1="601" y1="553.2" x2="610" y2="553.2" stroke="#1c6088" stroke-width="1"/>
<line x1="601.5" y1="552.4" x2="601.5" y2="559" stroke="#1c6088" stroke-width="1"/>
<line x1="610" y1="554.2" x2="619" y2="554.2" stroke="#1c6088" stroke-width="1"/>
<line x1="610.5" y1="553.2" x2="610.5" y2="559" stroke="#1c6088" stroke-width="1"/>
<line x1="619" y1="554.9" x2="628" y2="554.9" stroke="#1c6088" stroke-width="1"/>
<line x1="619.5" y1="554.2" x2="619.5" y2="559" stroke="#1c6088" stroke-width="1"/>
<line x1="628" y1="555.4" x2="637" y2="555.4" stroke="#1c6088" stroke-width="1"/>
<line x1="628.5" y1="554.9" x2="628.5" y2="559" stroke="#1c6088" stroke-width="1"/>
<line x1="637" y1="556.2" x2="646" y2="556.2" stroke="#1c6088" stroke-width="1"/>
<line x1="637.5" y1="555.4" x2="637.5" y2="559" stroke="#1c6088" stroke-width="1"/>
<line x1="646" y1="557.4" x2="655" y2="557.4" stroke="#1c6088" stroke-width="1"/>
<line x1="646.5" y1="556.2" x2="646.5" y2="559" stroke="#1c6088" stroke-width="1"/>
<line x1="655" y1="556.2" x2="664" y2="556.2" stroke="#1c6088" stroke-width="1"/>
<line x1="655.5" y1="556.2" x2="655.5" y2="559" stroke="#1c6088" stroke-width="1"/>
<line x1="664" y1="554.2" x2="673" y2="554.2" stroke="#1c6088" stroke-width="1"/>
<line x1="664.5" y1="554.2" x2="664.5" y2="559" stroke="#1c6088" stroke-width="1"/>
<line x1="673" y1="553.2" x2="682" y2="553.2" stroke="#1c6088" stroke-width="1"/>
<line x1="673.5" y1="553.2" x2="673.5" y2="559" stroke="#1c6088" stroke-width="1"/>
<line x1="682" y1="553.2" x2="691" y2="553.2" stroke="#1c6088" stroke-width="1"/>
<line x1="682.5" y1="553.2" x2="682.5" y2="559" stroke="#1c6088" stroke-width="1"/>
<line x1="691" y1="553.2" x2="700" y2="553.2" stroke="#1c6088" stroke-width="1"/>
<line x1="691.5" y1="553.2" x2="691.5" y2="559" stroke="#1c6088" stroke-width="1"/>
<line x1="700" y1="553.2" x2="709" y2="553.2" stroke="#1c6088" stroke-width="1"/>
<line x1="700.5" y1="553.2" x2="700.5" y2="559" stroke="#1c6088" stroke-width="1"/>
<line x1="709" y1="554.2" x2="718" y2="554.2" stroke="#1c6088" stroke-width="1"/>
<line x1="709.5" y1="553.2" x2="709.5" y2="559" stroke="#1c6088" stroke-width="1"/>
<line x1="718" y1="554.2" x2="727" y2="554.2" stroke="#1c6088" stroke-width="1"/>
<line x1="718.5" y1="554.2" x2="718.5" y2="559" stroke="#1c6088" stroke-width="1"/>
<line x1="727" y1="556.2" x2="736" y2="556.2" stroke="#1c6088" stroke-width="1"/>
<line x1="727.5" y1="554.2" x2="727.5" y2="559" stroke="#1c6088" stroke-width="1"/>
<line x1="736" y1="559.4" x2="745" y2="559.4" stroke="#1c6088" stroke-width="1"/>
<line x1="736.5" y1="556.2" x2="736.5" y2="559.4" stroke="#1c6088" stroke-width="1"/>
<line x1="745" y1="560.4" x2="754" y2="560.4" stroke="#1c6088" stroke-width="1"/>
<line x1="745.5" y1="559" x2="745.5" y2="560.4" stroke="#1c6088" stroke-width="1"/>
<line x1="754" y1="558.2" x2="763" y2="558.2" stroke="#1c6088" stroke-width="1"/>
<line x1="754.5" y1="558.2" x2="754.5" y2="560.4" stroke="#1c6088" stroke-width="1"/>
<line x1="763" y1="557.3" x2="772" y2="557.3" stroke="#1c6088" stroke-width="1"/>
<line x1="763.5" y1="557.3" x2="763.5" y2="559" stroke="#1c6088" stroke-width="1"/>
<line x1="772" y1="556.4" x2="781" y2="556.4" stroke="#1c6088" stroke-width="1"/>
<line x1="772.5" y1="556.4" x2="772.5" y2="559" stroke="#1c6088" stroke-width="1"/>
<line x1="781" y1="555.2" x2="790" y2="555.2" stroke="#1c6088" stroke-width="1"/>
<line x1="781.5" y1="555.2" x2="781.5" y2="559" stroke="#1c6088" stroke-width="1"/>
<line x1="790" y1="553.3" x2="799" y2="553.3" stroke="#1c6088" stroke-width="1"/>
<line x1="790.5" y1="553.3" x2="790.5" y2="559" stroke="#1c6088" stroke-width="1"/>
<line x1="799" y1="552.3" x2="808" y2="552.3" stroke="#1c6088" stroke-width="1"/>
<line x1="799.5" y1="552.3" x2="799.5" y2="559" stroke="#1c6088" stroke-width="1"/>
<line x1="808" y1="552.3" x2="808" y2="559" stroke="#1c6088" stroke-width="1"/>
<polyline points="40.7,560 63,553.1 82.7,549.8 105.8,547 130,545 160,544.5 200,546.5 234.8,548.7 252.3,547 256.8,546.2 272.2,546.2 289.7,545 309.6,547 329.6,551.2 349.5,554.9 370,559.9 385,564.9 398.4,569.9 416.4,577.4 434.3,585.4 452.5,592.3 470.5,598.1 488.5,603.1 497.4,604.1 506.4,605.3 515.4,605.3 524.6,604.3 533.6,604.3 542.6,603.6 551.5,601.6 560.5,600.3 569.5,598.6 578.5,596.8 596.5,592.8 614.4,590.6 632.4,588.9 650.3,587.9 668.5,586.1 686.5,584.1 704.4,581.1 722.4,579.1 740.6,578.1 749.5,579.3 758.5,578.5 767.4,578.3 776.3,577.5 785.2,576.7 794.2,575.2 803.1,573.4" fill="none" stroke="#f01818" stroke-width="1.2" stroke-linejoin="round"/>
<polyline points="40.7,551.4 59.7,547.3 75,544 90,542" fill="none" stroke="#000" stroke-width="1.65" stroke-linejoin="round"/>
<polyline points="100,544 120,545.8 130,547 145,547.8 160,548 182.4,550.4 210,550 232.3,547.5 245,545 256.8,543 272.2,545.5 289.7,544.2 299.7,548 317.1,553.7 334.6,560.4 349.5,562.4 359.5,565.7 370,569.9 385,576.1 398.4,581.1 407.4,586.1 416.4,591.1 425.4,596.1 434.3,601.1 443.6,604.3 452.5,606.1 461.5,608.6 470.5,611.5 479.5,611.5 488.5,611.5 497.4,609.3 506.4,607.3 515.4,604.1 524.6,603.1 533.6,602.3 542.6,599.3 551.5,596.6 560.5,594.3 569.5,592.3 578.5,590.3 587.5,588.6 596.5,587.4 605.4,587.4 614.4,586.4 623.4,587.6 632.4,586.6 641.3,587.6 650.3,586.6 659.6,584.4 668.5,582.4 677.5,579.4 686.5,579.1 695.5,577.1 704.4,576.1 713.4,575.1 722.4,574.4 731.6,576.6 740.6,578.4 749.5,580.1 758.5,578 767.4,575.6 776.3,573.5 785.2,571.5 794.2,569.5 803.1,567.8" fill="none" stroke="#000" stroke-width="1.65" stroke-linejoin="round"/>
</g>
<rect x="41" y="29" width="95" height="12.5" fill="#daf7f7"/>
<path d="M43.3,39 L43.3,36.5 L46.8,30.8 L48.6,34.4 L50.4,32.2 L51.7,32.2 L51.7,39 Z" fill="#5a9c7a"/>
<path d="M43.3,39 L43.3,36.5 L46.8,30.8 L48.6,34.4 L50.4,32.2 L51.7,32.2 L51.7,39" fill="none" stroke="#111" stroke-width="1.1"/>
<text x="55.5" y="39" font-family="'DejaVu Sans',Verdana,sans-serif" font-size="9.2" fill="#000" stroke="#000" stroke-width="0.1" textLength="78.5" lengthAdjust="spacingAndGlyphs">RSI(14) 54.08</text>
<rect x="41" y="113" width="129.5" height="12" fill="#daf7f7"/>
<rect x="41" y="125" width="78" height="11" fill="#daf7f7"/>
<rect x="41" y="136" width="82" height="11" fill="#daf7f7"/>
<rect x="41" y="147" width="166" height="10.8" fill="#daf7f7"/>
<rect x="41" y="157.8" width="89.3" height="10" fill="#daf7f7"/>
<g stroke="#000" stroke-width="1" fill="none"><line x1="45" y1="115.5" x2="45" y2="124"/><rect x="43.7" y="117.5" width="2.6" height="4.5" fill="#000"/><line x1="50" y1="115.5" x2="50" y2="124"/><rect x="48.5" y="117.5" width="3" height="4.5" fill="#fff"/></g>
<text x="55.5" y="122.8" font-family="'DejaVu Sans',Verdana,sans-serif" font-size="9.2" fill="#000" stroke="#000" stroke-width="0.1" textLength="114" lengthAdjust="spacingAndGlyphs">RDDT (Daily) 145.00</text>
<line x1="43" y1="130.5" x2="52" y2="130.5" stroke="#10109a" stroke-width="2"/>
<text x="54" y="133.7" font-family="'DejaVu Sans Condensed','DejaVu Sans',sans-serif" font-size="9.3" fill="#10109a" stroke="#10109a" stroke-width="0.1" textLength="63.5" lengthAdjust="spacingAndGlyphs">MA(50) 145.74</text>
<line x1="43" y1="141.5" x2="52" y2="141.5" stroke="#d3103a" stroke-width="2"/>
<text x="54" y="144.6" font-family="'DejaVu Sans Condensed','DejaVu Sans',sans-serif" font-size="9.3" fill="#d3103a" stroke="#d3103a" stroke-width="0.1" textLength="67.8" lengthAdjust="spacingAndGlyphs">MA(200) 192.27</text>
<line x1="43" y1="152.4" x2="52" y2="152.4" stroke="#0f6b1a" stroke-width="2"/>
<text x="54" y="155.5" font-family="'DejaVu Sans Condensed','DejaVu Sans',sans-serif" font-size="9.3" fill="#0f5f16" stroke="#0f5f16" stroke-width="0.1" textLength="152" lengthAdjust="spacingAndGlyphs">BB(20,2.0) 124.19 - 136.40 - 148.62</text>
<g fill="#555"><rect x="43" y="161" width="2" height="5.5"/><rect x="45.5" y="158.5" width="2" height="8"/><rect x="48" y="160" width="2" height="6.5"/><rect x="50.5" y="159" width="1.8" height="7.5"/></g>
<text x="54" y="165.6" font-family="'DejaVu Sans Condensed','DejaVu Sans',sans-serif" font-size="9.3" fill="#555" stroke="#555" stroke-width="0.1" textLength="76.3" lengthAdjust="spacingAndGlyphs">Volume 3,995,814</text>
<rect x="130.9" y="160" width="3" height="1.9" fill="#111"/>
<rect x="41" y="367" width="225.5" height="12.2" fill="#daf7f7"/>
<line x1="43.5" y1="373" x2="52.5" y2="373" stroke="#000" stroke-width="2"/>
<text x="55.5" y="377.2" font-family="'DejaVu Sans',Verdana,sans-serif" font-size="9.2" fill="#000" stroke="#000" stroke-width="0.1" textLength="124.5" lengthAdjust="spacingAndGlyphs">MACD(12,26,9) -2.954</text>
<text x="180" y="377.2" font-family="'DejaVu Sans',Verdana,sans-serif" font-size="9.2" fill="#f01818" stroke="#f01818" stroke-width="0.1" textLength="45" lengthAdjust="spacingAndGlyphs">, -5.279</text>
<text x="225.5" y="377.2" font-family="'DejaVu Sans',Verdana,sans-serif" font-size="9.2" fill="#3a8fc8" stroke="#3a8fc8" stroke-width="0.1" textLength="40.5" lengthAdjust="spacingAndGlyphs">, 2.325</text>
<rect x="41" y="451" width="215" height="11.8" fill="#daf7f7"/>
<line x1="43.5" y1="457" x2="52.5" y2="457" stroke="#000" stroke-width="2"/>
<text x="55.5" y="461.2" font-family="'DejaVu Sans',Verdana,sans-serif" font-size="9.2" fill="#000" stroke="#000" stroke-width="0.1" textLength="81" lengthAdjust="spacingAndGlyphs">ADX(14) 18.68</text>
<text x="141" y="461.2" font-family="'DejaVu Sans',Verdana,sans-serif" font-size="9.2" fill="#0f6e3c" stroke="#0f6e3c" stroke-width="0.1" textLength="56" lengthAdjust="spacingAndGlyphs">+DI 32.09</text>
<text x="201.5" y="461.2" font-family="'DejaVu Sans',Verdana,sans-serif" font-size="9.2" fill="#a3123f" stroke="#a3123f" stroke-width="0.1" textLength="54" lengthAdjust="spacingAndGlyphs">-DI 23.82</text>
<rect x="41" y="535" width="216" height="12.2" fill="#daf7f7"/>
<line x1="43.5" y1="541" x2="52.5" y2="541" stroke="#000" stroke-width="2"/>
<text x="55.5" y="545.2" font-family="'DejaVu Sans',Verdana,sans-serif" font-size="9.2" fill="#000" stroke="#000" stroke-width="0.1" textLength="116" lengthAdjust="spacingAndGlyphs">PPO(12,26,9) -2.105</text>
<text x="171.5" y="545.2" font-family="'DejaVu Sans',Verdana,sans-serif" font-size="9.2" fill="#f01818" stroke="#f01818" stroke-width="0.1" textLength="45" lengthAdjust="spacingAndGlyphs">, -3.713</text>
<text x="217" y="545.2" font-family="'DejaVu Sans',Verdana,sans-serif" font-size="9.2" fill="#3a8fc8" stroke="#3a8fc8" stroke-width="0.1" textLength="40" lengthAdjust="spacingAndGlyphs">, 1.608</text>
<rect x="40.5" y="28.5" width="772" height="84" fill="none" stroke="#c6c6c6" stroke-width="1"/>
<line x1="813.1" y1="28.5" x2="813.1" y2="112.5" stroke="#d6d6d6" stroke-width="1"/>
<rect x="40.5" y="112.5" width="772" height="240" fill="none" stroke="#c6c6c6" stroke-width="1"/>
<line x1="813.1" y1="112.5" x2="813.1" y2="352.5" stroke="#d6d6d6" stroke-width="1"/>
<rect x="40.5" y="366.5" width="772" height="84" fill="none" stroke="#c6c6c6" stroke-width="1"/>
<line x1="813.1" y1="366.5" x2="813.1" y2="450.5" stroke="#d6d6d6" stroke-width="1"/>
<rect x="40.5" y="450.5" width="772" height="84" fill="none" stroke="#c6c6c6" stroke-width="1"/>
<line x1="813.1" y1="450.5" x2="813.1" y2="534.5" stroke="#d6d6d6" stroke-width="1"/>
<rect x="40.5" y="534.5" width="772" height="84" fill="none" stroke="#c6c6c6" stroke-width="1"/>
<line x1="813.1" y1="534.5" x2="813.1" y2="618.5" stroke="#d6d6d6" stroke-width="1"/>
<text x="815.8" y="45" font-family="'Liberation Sans',Arial,sans-serif" font-size="10" fill="#000" stroke="#000" stroke-width="0.15" textLength="11.5" lengthAdjust="spacingAndGlyphs">90</text>
<line x1="813.5" y1="42.3" x2="815.5" y2="42.3" stroke="#c2c2c2" stroke-width="1"/>
<text x="815.8" y="59" font-family="'Liberation Sans',Arial,sans-serif" font-size="10" fill="#000" stroke="#000" stroke-width="0.15" textLength="11.5" lengthAdjust="spacingAndGlyphs">70</text>
<line x1="813.5" y1="56.4" x2="815.5" y2="56.4" stroke="#c2c2c2" stroke-width="1"/>
<text x="815.8" y="73" font-family="'Liberation Sans',Arial,sans-serif" font-size="10" fill="#000" stroke="#000" stroke-width="0.15" textLength="11.5" lengthAdjust="spacingAndGlyphs">50</text>
<line x1="813.5" y1="70.4" x2="815.5" y2="70.4" stroke="#c2c2c2" stroke-width="1"/>
<text x="815.8" y="87" font-family="'Liberation Sans',Arial,sans-serif" font-size="10" fill="#000" stroke="#000" stroke-width="0.15" textLength="11.5" lengthAdjust="spacingAndGlyphs">30</text>
<line x1="813.5" y1="84.5" x2="815.5" y2="84.5" stroke="#c2c2c2" stroke-width="1"/>
<text x="815.8" y="101" font-family="'Liberation Sans',Arial,sans-serif" font-size="10" fill="#000" stroke="#000" stroke-width="0.15" textLength="11.5" lengthAdjust="spacingAndGlyphs">10</text>
<line x1="813.5" y1="98.6" x2="815.5" y2="98.6" stroke="#c2c2c2" stroke-width="1"/>
<text x="816" y="347" font-family="'Liberation Sans',Arial,sans-serif" font-size="10" fill="#000" stroke="#000" stroke-width="0.15" textLength="17.2" lengthAdjust="spacingAndGlyphs">120</text>
<line x1="813.5" y1="343.6" x2="815.5" y2="343.6" stroke="#c2c2c2" stroke-width="1"/>
<text x="816" y="324" font-family="'Liberation Sans',Arial,sans-serif" font-size="10" fill="#000" stroke="#000" stroke-width="0.15" textLength="17.2" lengthAdjust="spacingAndGlyphs">130</text>
<line x1="813.5" y1="320.7" x2="815.5" y2="320.7" stroke="#c2c2c2" stroke-width="1"/>
<text x="816" y="303" font-family="'Liberation Sans',Arial,sans-serif" font-size="10" fill="#000" stroke="#000" stroke-width="0.15" textLength="17.2" lengthAdjust="spacingAndGlyphs">140</text>
<line x1="813.5" y1="299.6" x2="815.5" y2="299.6" stroke="#c2c2c2" stroke-width="1"/>
<text x="816" y="283" font-family="'Liberation Sans',Arial,sans-serif" font-size="10" fill="#000" stroke="#000" stroke-width="0.15" textLength="17.2" lengthAdjust="spacingAndGlyphs">150</text>
<line x1="813.5" y1="279.9" x2="815.5" y2="279.9" stroke="#c2c2c2" stroke-width="1"/>
<text x="816" y="265" font-family="'Liberation Sans',Arial,sans-serif" font-size="10" fill="#000" stroke="#000" stroke-width="0.15" textLength="17.2" lengthAdjust="spacingAndGlyphs">160</text>
<line x1="813.5" y1="261.5" x2="815.5" y2="261.5" stroke="#c2c2c2" stroke-width="1"/>
<text x="816" y="247" font-family="'Liberation Sans',Arial,sans-serif" font-size="10" fill="#000" stroke="#000" stroke-width="0.15" textLength="17.2" lengthAdjust="spacingAndGlyphs">170</text>
<line x1="813.5" y1="244.2" x2="815.5" y2="244.2" stroke="#c2c2c2" stroke-width="1"/>
<text x="816" y="231" font-family="'Liberation Sans',Arial,sans-serif" font-size="10" fill="#000" stroke="#000" stroke-width="0.15" textLength="17.2" lengthAdjust="spacingAndGlyphs">180</text>
<line x1="813.5" y1="227.9" x2="815.5" y2="227.9" stroke="#c2c2c2" stroke-width="1"/>
<text x="816" y="215" font-family="'Liberation Sans',Arial,sans-serif" font-size="10" fill="#000" stroke="#000" stroke-width="0.15" textLength="17.2" lengthAdjust="spacingAndGlyphs">190</text>
<line x1="813.5" y1="212.5" x2="815.5" y2="212.5" stroke="#c2c2c2" stroke-width="1"/>
<text x="816" y="201" font-family="'Liberation Sans',Arial,sans-serif" font-size="10" fill="#000" stroke="#000" stroke-width="0.15" textLength="17.2" lengthAdjust="spacingAndGlyphs">200</text>
<line x1="813.5" y1="197.9" x2="815.5" y2="197.9" stroke="#c2c2c2" stroke-width="1"/>
<text x="816" y="187" font-family="'Liberation Sans',Arial,sans-serif" font-size="10" fill="#000" stroke="#000" stroke-width="0.15" textLength="17.2" lengthAdjust="spacingAndGlyphs">210</text>
<line x1="813.5" y1="184" x2="815.5" y2="184" stroke="#c2c2c2" stroke-width="1"/>
<text x="816" y="174" font-family="'Liberation Sans',Arial,sans-serif" font-size="10" fill="#000" stroke="#000" stroke-width="0.15" textLength="17.2" lengthAdjust="spacingAndGlyphs">220</text>
<line x1="813.5" y1="170.7" x2="815.5" y2="170.7" stroke="#c2c2c2" stroke-width="1"/>
<text x="816" y="161" font-family="'Liberation Sans',Arial,sans-serif" font-size="10" fill="#000" stroke="#000" stroke-width="0.15" textLength="17.2" lengthAdjust="spacingAndGlyphs">230</text>
<line x1="813.5" y1="158" x2="815.5" y2="158" stroke="#c2c2c2" stroke-width="1"/>
<text x="816" y="149" font-family="'Liberation Sans',Arial,sans-serif" font-size="10" fill="#000" stroke="#000" stroke-width="0.15" textLength="17.2" lengthAdjust="spacingAndGlyphs">240</text>
<line x1="813.5" y1="145.9" x2="815.5" y2="145.9" stroke="#c2c2c2" stroke-width="1"/>
<text x="816" y="137" font-family="'Liberation Sans',Arial,sans-serif" font-size="10" fill="#000" stroke="#000" stroke-width="0.15" textLength="17.2" lengthAdjust="spacingAndGlyphs">250</text>
<line x1="813.5" y1="134.2" x2="815.5" y2="134.2" stroke="#c2c2c2" stroke-width="1"/>
<text x="816" y="126" font-family="'Liberation Sans',Arial,sans-serif" font-size="10" fill="#000" stroke="#000" stroke-width="0.15" textLength="17.2" lengthAdjust="spacingAndGlyphs">260</text>
<line x1="813.5" y1="123.1" x2="815.5" y2="123.1" stroke="#c2c2c2" stroke-width="1"/>
<line x1="813.5" y1="338.9" x2="814.7" y2="338.9" stroke="#d2d2d2" stroke-width="1"/>
<line x1="813.5" y1="334.2" x2="814.7" y2="334.2" stroke="#d2d2d2" stroke-width="1"/>
<line x1="813.5" y1="329.7" x2="814.7" y2="329.7" stroke="#d2d2d2" stroke-width="1"/>
<line x1="813.5" y1="325.2" x2="814.7" y2="325.2" stroke="#d2d2d2" stroke-width="1"/>
<line x1="813.5" y1="316.4" x2="814.7" y2="316.4" stroke="#d2d2d2" stroke-width="1"/>
<line x1="813.5" y1="312.1" x2="814.7" y2="312.1" stroke="#d2d2d2" stroke-width="1"/>
<line x1="813.5" y1="307.9" x2="814.7" y2="307.9" stroke="#d2d2d2" stroke-width="1"/>
<line x1="813.5" y1="303.7" x2="814.7" y2="303.7" stroke="#d2d2d2" stroke-width="1"/>
<line x1="813.5" y1="295.6" x2="814.7" y2="295.6" stroke="#d2d2d2" stroke-width="1"/>
<line x1="813.5" y1="291.6" x2="814.7" y2="291.6" stroke="#d2d2d2" stroke-width="1"/>
<line x1="813.5" y1="287.6" x2="814.7" y2="287.6" stroke="#d2d2d2" stroke-width="1"/>
<line x1="813.5" y1="283.8" x2="814.7" y2="283.8" stroke="#d2d2d2" stroke-width="1"/>
<line x1="813.5" y1="276.2" x2="814.7" y2="276.2" stroke="#d2d2d2" stroke-width="1"/>
<line x1="813.5" y1="272.4" x2="814.7" y2="272.4" stroke="#d2d2d2" stroke-width="1"/>
<line x1="813.5" y1="268.7" x2="814.7" y2="268.7" stroke="#d2d2d2" stroke-width="1"/>
<line x1="813.5" y1="265.1" x2="814.7" y2="265.1" stroke="#d2d2d2" stroke-width="1"/>
<line x1="813.5" y1="258" x2="814.7" y2="258" stroke="#d2d2d2" stroke-width="1"/>
<line x1="813.5" y1="254.5" x2="814.7" y2="254.5" stroke="#d2d2d2" stroke-width="1"/>
<line x1="813.5" y1="251" x2="814.7" y2="251" stroke="#d2d2d2" stroke-width="1"/>
<line x1="813.5" y1="247.6" x2="814.7" y2="247.6" stroke="#d2d2d2" stroke-width="1"/>
<line x1="813.5" y1="240.9" x2="814.7" y2="240.9" stroke="#d2d2d2" stroke-width="1"/>
<line x1="813.5" y1="237.6" x2="814.7" y2="237.6" stroke="#d2d2d2" stroke-width="1"/>
<line x1="813.5" y1="234.3" x2="814.7" y2="234.3" stroke="#d2d2d2" stroke-width="1"/>
<line x1="813.5" y1="231.1" x2="814.7" y2="231.1" stroke="#d2d2d2" stroke-width="1"/>
<line x1="813.5" y1="224.8" x2="814.7" y2="224.8" stroke="#d2d2d2" stroke-width="1"/>
<line x1="813.5" y1="221.7" x2="814.7" y2="221.7" stroke="#d2d2d2" stroke-width="1"/>
<line x1="813.5" y1="218.6" x2="814.7" y2="218.6" stroke="#d2d2d2" stroke-width="1"/>
<line x1="813.5" y1="215.5" x2="814.7" y2="215.5" stroke="#d2d2d2" stroke-width="1"/>
<line x1="813.5" y1="209.5" x2="814.7" y2="209.5" stroke="#d2d2d2" stroke-width="1"/>
<line x1="813.5" y1="206.6" x2="814.7" y2="206.6" stroke="#d2d2d2" stroke-width="1"/>
<line x1="813.5" y1="203.6" x2="814.7" y2="203.6" stroke="#d2d2d2" stroke-width="1"/>
<line x1="813.5" y1="200.8" x2="814.7" y2="200.8" stroke="#d2d2d2" stroke-width="1"/>
<line x1="813.5" y1="195" x2="814.7" y2="195" stroke="#d2d2d2" stroke-width="1"/>
<line x1="813.5" y1="192.2" x2="814.7" y2="192.2" stroke="#d2d2d2" stroke-width="1"/>
<line x1="813.5" y1="189.5" x2="814.7" y2="189.5" stroke="#d2d2d2" stroke-width="1"/>
<line x1="813.5" y1="186.7" x2="814.7" y2="186.7" stroke="#d2d2d2" stroke-width="1"/>
<line x1="813.5" y1="181.3" x2="814.7" y2="181.3" stroke="#d2d2d2" stroke-width="1"/>
<line x1="813.5" y1="178.6" x2="814.7" y2="178.6" stroke="#d2d2d2" stroke-width="1"/>
<line x1="813.5" y1="175.9" x2="814.7" y2="175.9" stroke="#d2d2d2" stroke-width="1"/>
<line x1="813.5" y1="173.3" x2="814.7" y2="173.3" stroke="#d2d2d2" stroke-width="1"/>
<line x1="813.5" y1="168.1" x2="814.7" y2="168.1" stroke="#d2d2d2" stroke-width="1"/>
<line x1="813.5" y1="165.6" x2="814.7" y2="165.6" stroke="#d2d2d2" stroke-width="1"/>
<line x1="813.5" y1="163" x2="814.7" y2="163" stroke="#d2d2d2" stroke-width="1"/>
<line x1="813.5" y1="160.5" x2="814.7" y2="160.5" stroke="#d2d2d2" stroke-width="1"/>
<line x1="813.5" y1="155.6" x2="814.7" y2="155.6" stroke="#d2d2d2" stroke-width="1"/>
<line x1="813.5" y1="153.1" x2="814.7" y2="153.1" stroke="#d2d2d2" stroke-width="1"/>
<line x1="813.5" y1="150.7" x2="814.7" y2="150.7" stroke="#d2d2d2" stroke-width="1"/>
<line x1="813.5" y1="148.3" x2="814.7" y2="148.3" stroke="#d2d2d2" stroke-width="1"/>
<line x1="813.5" y1="143.5" x2="814.7" y2="143.5" stroke="#d2d2d2" stroke-width="1"/>
<line x1="813.5" y1="141.2" x2="814.7" y2="141.2" stroke="#d2d2d2" stroke-width="1"/>
<line x1="813.5" y1="138.8" x2="814.7" y2="138.8" stroke="#d2d2d2" stroke-width="1"/>
<line x1="813.5" y1="136.5" x2="814.7" y2="136.5" stroke="#d2d2d2" stroke-width="1"/>
<line x1="813.5" y1="132" x2="814.7" y2="132" stroke="#d2d2d2" stroke-width="1"/>
<line x1="813.5" y1="129.7" x2="814.7" y2="129.7" stroke="#d2d2d2" stroke-width="1"/>
<line x1="813.5" y1="127.5" x2="814.7" y2="127.5" stroke="#d2d2d2" stroke-width="1"/>
<line x1="813.5" y1="125.3" x2="814.7" y2="125.3" stroke="#d2d2d2" stroke-width="1"/>
<text x="818.5" y="375" font-family="'Liberation Sans',Arial,sans-serif" font-size="10" fill="#000" stroke="#000" stroke-width="0.15" textLength="11.5" lengthAdjust="spacingAndGlyphs">10</text>
<line x1="813.5" y1="372.3" x2="815.5" y2="372.3" stroke="#c2c2c2" stroke-width="1"/>
<text x="824.2" y="395" font-family="'Liberation Sans',Arial,sans-serif" font-size="10" fill="#000" stroke="#000" stroke-width="0.15" textLength="5.8" lengthAdjust="spacingAndGlyphs">0</text>
<line x1="813.5" y1="393.2" x2="815.5" y2="393.2" stroke="#c2c2c2" stroke-width="1"/>
<text x="814.9" y="416" font-family="'Liberation Sans',Arial,sans-serif" font-size="10" fill="#000" stroke="#000" stroke-width="0.15" textLength="15.1" lengthAdjust="spacingAndGlyphs">-10</text>
<line x1="813.5" y1="414.1" x2="815.5" y2="414.1" stroke="#c2c2c2" stroke-width="1"/>
<text x="814.9" y="437" font-family="'Liberation Sans',Arial,sans-serif" font-size="10" fill="#000" stroke="#000" stroke-width="0.15" textLength="15.1" lengthAdjust="spacingAndGlyphs">-20</text>
<line x1="813.5" y1="434.9" x2="815.5" y2="434.9" stroke="#c2c2c2" stroke-width="1"/>
<text x="815.8" y="465" font-family="'Liberation Sans',Arial,sans-serif" font-size="10" fill="#000" stroke="#000" stroke-width="0.15" textLength="11.5" lengthAdjust="spacingAndGlyphs">40</text>
<line x1="813.5" y1="462.2" x2="815.5" y2="462.2" stroke="#c2c2c2" stroke-width="1"/>
<text x="815.8" y="486" font-family="'Liberation Sans',Arial,sans-serif" font-size="10" fill="#000" stroke="#000" stroke-width="0.15" textLength="11.5" lengthAdjust="spacingAndGlyphs">30</text>
<line x1="813.5" y1="483.2" x2="815.5" y2="483.2" stroke="#c2c2c2" stroke-width="1"/>
<text x="815.8" y="507" font-family="'Liberation Sans',Arial,sans-serif" font-size="10" fill="#000" stroke="#000" stroke-width="0.15" textLength="11.5" lengthAdjust="spacingAndGlyphs">20</text>
<line x1="813.5" y1="504.2" x2="815.5" y2="504.2" stroke="#c2c2c2" stroke-width="1"/>
<text x="815.8" y="528" font-family="'Liberation Sans',Arial,sans-serif" font-size="10" fill="#000" stroke="#000" stroke-width="0.15" textLength="11.5" lengthAdjust="spacingAndGlyphs">10</text>
<line x1="813.5" y1="525.2" x2="815.5" y2="525.2" stroke="#c2c2c2" stroke-width="1"/>
<text x="824.2" y="542" font-family="'Liberation Sans',Arial,sans-serif" font-size="10" fill="#000" stroke="#000" stroke-width="0.15" textLength="5.8" lengthAdjust="spacingAndGlyphs">5</text>
<line x1="813.5" y1="539.4" x2="815.5" y2="539.4" stroke="#c2c2c2" stroke-width="1"/>
<text x="824.2" y="561" font-family="'Liberation Sans',Arial,sans-serif" font-size="10" fill="#000" stroke="#000" stroke-width="0.15" textLength="5.8" lengthAdjust="spacingAndGlyphs">0</text>
<line x1="813.5" y1="559" x2="815.5" y2="559" stroke="#c2c2c2" stroke-width="1"/>
<text x="820.6" y="581" font-family="'Liberation Sans',Arial,sans-serif" font-size="10" fill="#000" stroke="#000" stroke-width="0.15" textLength="9.3" lengthAdjust="spacingAndGlyphs">-5</text>
<line x1="813.5" y1="578.6" x2="815.5" y2="578.6" stroke="#c2c2c2" stroke-width="1"/>
<text x="814.9" y="600" font-family="'Liberation Sans',Arial,sans-serif" font-size="10" fill="#000" stroke="#000" stroke-width="0.15" textLength="15.1" lengthAdjust="spacingAndGlyphs">-10</text>
<line x1="813.5" y1="598.2" x2="815.5" y2="598.2" stroke="#c2c2c2" stroke-width="1"/>
<text x="22.3" y="340" font-family="'Liberation Sans',Arial,sans-serif" font-size="10" fill="#000" stroke="#000" stroke-width="0.15" textLength="14.9" lengthAdjust="spacingAndGlyphs">5M</text>
<line x1="38" y1="337.6" x2="40" y2="337.6" stroke="#888" stroke-width="1"/>
<text x="16.6" y="326" font-family="'Liberation Sans',Arial,sans-serif" font-size="10" fill="#000" stroke="#000" stroke-width="0.15" textLength="20.7" lengthAdjust="spacingAndGlyphs">10M</text>
<line x1="38" y1="323.1" x2="40" y2="323.1" stroke="#888" stroke-width="1"/>
<text x="16.6" y="311" font-family="'Liberation Sans',Arial,sans-serif" font-size="10" fill="#000" stroke="#000" stroke-width="0.15" textLength="20.7" lengthAdjust="spacingAndGlyphs">15M</text>
<line x1="38" y1="308.6" x2="40" y2="308.6" stroke="#888" stroke-width="1"/>
<text x="16.6" y="297" font-family="'Liberation Sans',Arial,sans-serif" font-size="10" fill="#000" stroke="#000" stroke-width="0.15" textLength="20.7" lengthAdjust="spacingAndGlyphs">20M</text>
<line x1="38" y1="294.2" x2="40" y2="294.2" stroke="#888" stroke-width="1"/>
<text x="16.6" y="282" font-family="'Liberation Sans',Arial,sans-serif" font-size="10" fill="#000" stroke="#000" stroke-width="0.15" textLength="20.7" lengthAdjust="spacingAndGlyphs">25M</text>
<line x1="38" y1="279.8" x2="40" y2="279.8" stroke="#888" stroke-width="1"/>
<text x="62.6" y="363" font-family="'Liberation Sans',Arial,sans-serif" font-size="10" fill="#000" textLength="5.8" lengthAdjust="spacingAndGlyphs" stroke="#000" stroke-width="0.2">8</text>
<text x="104.5" y="363" font-family="'Liberation Sans',Arial,sans-serif" font-size="10" fill="#000" textLength="11.5" lengthAdjust="spacingAndGlyphs" stroke="#000" stroke-width="0.2">15</text>
<text x="149.4" y="363" font-family="'Liberation Sans',Arial,sans-serif" font-size="10" fill="#000" textLength="11.5" lengthAdjust="spacingAndGlyphs" stroke="#000" stroke-width="0.2">22</text>
<text x="184.8" y="363" font-family="'Liberation Sans',Arial,sans-serif" font-size="10" fill="#000" textLength="11.5" lengthAdjust="spacingAndGlyphs" stroke="#000" stroke-width="0.2">29</text>
<text x="205.8" y="363" font-family="'Liberation Sans',Arial,sans-serif" font-size="11" fill="#000" font-weight="bold" textLength="23.2" lengthAdjust="spacingAndGlyphs">2026</text>
<text x="266.4" y="363" font-family="'Liberation Sans',Arial,sans-serif" font-size="10" fill="#000" textLength="11.5" lengthAdjust="spacingAndGlyphs" stroke="#000" stroke-width="0.2">12</text>
<text x="310.9" y="363" font-family="'Liberation Sans',Arial,sans-serif" font-size="10" fill="#000" textLength="11.5" lengthAdjust="spacingAndGlyphs" stroke="#000" stroke-width="0.2">20</text>
<text x="346.9" y="363" font-family="'Liberation Sans',Arial,sans-serif" font-size="10" fill="#000" textLength="11.5" lengthAdjust="spacingAndGlyphs" stroke="#000" stroke-width="0.2">26</text>
<text x="389.4" y="363" font-family="'Liberation Sans',Arial,sans-serif" font-size="11" fill="#000" font-weight="bold" textLength="18.5" lengthAdjust="spacingAndGlyphs">Feb</text>
<text x="440.6" y="363" font-family="'Liberation Sans',Arial,sans-serif" font-size="10" fill="#000" textLength="5.8" lengthAdjust="spacingAndGlyphs" stroke="#000" stroke-width="0.2">9</text>
<text x="481.9" y="363" font-family="'Liberation Sans',Arial,sans-serif" font-size="10" fill="#000" textLength="11.5" lengthAdjust="spacingAndGlyphs" stroke="#000" stroke-width="0.2">17</text>
<text x="517.9" y="363" font-family="'Liberation Sans',Arial,sans-serif" font-size="10" fill="#000" textLength="11.5" lengthAdjust="spacingAndGlyphs" stroke="#000" stroke-width="0.2">23</text>
<text x="560.4" y="363" font-family="'Liberation Sans',Arial,sans-serif" font-size="11" fill="#000" font-weight="bold" textLength="18.3" lengthAdjust="spacingAndGlyphs">Mar</text>
<text x="611.6" y="363" font-family="'Liberation Sans',Arial,sans-serif" font-size="10" fill="#000" textLength="5.8" lengthAdjust="spacingAndGlyphs" stroke="#000" stroke-width="0.2">9</text>
<text x="652.9" y="363" font-family="'Liberation Sans',Arial,sans-serif" font-size="10" fill="#000" textLength="11.5" lengthAdjust="spacingAndGlyphs" stroke="#000" stroke-width="0.2">16</text>
<text x="697.9" y="363" font-family="'Liberation Sans',Arial,sans-serif" font-size="10" fill="#000" textLength="11.5" lengthAdjust="spacingAndGlyphs" stroke="#000" stroke-width="0.2">23</text>
<text x="742.9" y="363" font-family="'Liberation Sans',Arial,sans-serif" font-size="10" fill="#000" textLength="11.5" lengthAdjust="spacingAndGlyphs" stroke="#000" stroke-width="0.2">30</text>
<text x="758.5" y="363" font-family="'Liberation Sans',Arial,sans-serif" font-size="11" fill="#000" font-weight="bold" textLength="19.3" lengthAdjust="spacingAndGlyphs">Apr</text>
<text x="782.6" y="363" font-family="'Liberation Sans',Arial,sans-serif" font-size="10" fill="#000" textLength="5.8" lengthAdjust="spacingAndGlyphs" stroke="#000" stroke-width="0.2">6</text>
<text x="62.6" y="628" font-family="'Liberation Sans',Arial,sans-serif" font-size="10" fill="#000" textLength="5.8" lengthAdjust="spacingAndGlyphs" stroke="#000" stroke-width="0.2">8</text>
<text x="104.5" y="628" font-family="'Liberation Sans',Arial,sans-serif" font-size="10" fill="#000" textLength="11.5" lengthAdjust="spacingAndGlyphs" stroke="#000" stroke-width="0.2">15</text>
<text x="149.4" y="628" font-family="'Liberation Sans',Arial,sans-serif" font-size="10" fill="#000" textLength="11.5" lengthAdjust="spacingAndGlyphs" stroke="#000" stroke-width="0.2">22</text>
<text x="184.8" y="628" font-family="'Liberation Sans',Arial,sans-serif" font-size="10" fill="#000" textLength="11.5" lengthAdjust="spacingAndGlyphs" stroke="#000" stroke-width="0.2">29</text>
<text x="205.8" y="628" font-family="'Liberation Sans',Arial,sans-serif" font-size="11" fill="#000" font-weight="bold" textLength="23.2" lengthAdjust="spacingAndGlyphs">2026</text>
<text x="266.4" y="628" font-family="'Liberation Sans',Arial,sans-serif" font-size="10" fill="#000" textLength="11.5" lengthAdjust="spacingAndGlyphs" stroke="#000" stroke-width="0.2">12</text>
<text x="310.9" y="628" font-family="'Liberation Sans',Arial,sans-serif" font-size="10" fill="#000" textLength="11.5" lengthAdjust="spacingAndGlyphs" stroke="#000" stroke-width="0.2">20</text>
<text x="346.9" y="628" font-family="'Liberation Sans',Arial,sans-serif" font-size="10" fill="#000" textLength="11.5" lengthAdjust="spacingAndGlyphs" stroke="#000" stroke-width="0.2">26</text>
<text x="389.4" y="628" font-family="'Liberation Sans',Arial,sans-serif" font-size="11" fill="#000" font-weight="bold" textLength="18.5" lengthAdjust="spacingAndGlyphs">Feb</text>
<text x="440.6" y="628" font-family="'Liberation Sans',Arial,sans-serif" font-size="10" fill="#000" textLength="5.8" lengthAdjust="spacingAndGlyphs" stroke="#000" stroke-width="0.2">9</text>
<text x="481.9" y="628" font-family="'Liberation Sans',Arial,sans-serif" font-size="10" fill="#000" textLength="11.5" lengthAdjust="spacingAndGlyphs" stroke="#000" stroke-width="0.2">17</text>
<text x="517.9" y="628" font-family="'Liberation Sans',Arial,sans-serif" font-size="10" fill="#000" textLength="11.5" lengthAdjust="spacingAndGlyphs" stroke="#000" stroke-width="0.2">23</text>
<text x="560.4" y="628" font-family="'Liberation Sans',Arial,sans-serif" font-size="11" fill="#000" font-weight="bold" textLength="18.3" lengthAdjust="spacingAndGlyphs">Mar</text>
<text x="611.6" y="628" font-family="'Liberation Sans',Arial,sans-serif" font-size="10" fill="#000" textLength="5.8" lengthAdjust="spacingAndGlyphs" stroke="#000" stroke-width="0.2">9</text>
<text x="652.9" y="628" font-family="'Liberation Sans',Arial,sans-serif" font-size="10" fill="#000" textLength="11.5" lengthAdjust="spacingAndGlyphs" stroke="#000" stroke-width="0.2">16</text>
<text x="697.9" y="628" font-family="'Liberation Sans',Arial,sans-serif" font-size="10" fill="#000" textLength="11.5" lengthAdjust="spacingAndGlyphs" stroke="#000" stroke-width="0.2">23</text>
<text x="742.9" y="628" font-family="'Liberation Sans',Arial,sans-serif" font-size="10" fill="#000" textLength="11.5" lengthAdjust="spacingAndGlyphs" stroke="#000" stroke-width="0.2">30</text>
<text x="758.5" y="628" font-family="'Liberation Sans',Arial,sans-serif" font-size="11" fill="#000" font-weight="bold" textLength="19.3" lengthAdjust="spacingAndGlyphs">Apr</text>
<text x="782.6" y="628" font-family="'Liberation Sans',Arial,sans-serif" font-size="10" fill="#000" textLength="5.8" lengthAdjust="spacingAndGlyphs" stroke="#000" stroke-width="0.2">6</text>
<line x1="65.5" y1="631" x2="65.5" y2="632.2" stroke="#cfcfcf" stroke-width="1"/>
<line x1="110.5" y1="631" x2="110.5" y2="632.2" stroke="#cfcfcf" stroke-width="1"/>
<line x1="155.5" y1="631" x2="155.5" y2="632.2" stroke="#cfcfcf" stroke-width="1"/>
<line x1="191.5" y1="631" x2="191.5" y2="632.2" stroke="#cfcfcf" stroke-width="1"/>
<line x1="218.5" y1="631" x2="218.5" y2="632.2" stroke="#cfcfcf" stroke-width="1"/>
<line x1="272.5" y1="631" x2="272.5" y2="632.2" stroke="#cfcfcf" stroke-width="1"/>
<line x1="317.5" y1="631" x2="317.5" y2="632.2" stroke="#cfcfcf" stroke-width="1"/>
<line x1="353.5" y1="631" x2="353.5" y2="632.2" stroke="#cfcfcf" stroke-width="1"/>
<line x1="398.5" y1="631" x2="398.5" y2="632.2" stroke="#cfcfcf" stroke-width="1"/>
<line x1="443.5" y1="631" x2="443.5" y2="632.2" stroke="#cfcfcf" stroke-width="1"/>
<line x1="488.5" y1="631" x2="488.5" y2="632.2" stroke="#cfcfcf" stroke-width="1"/>
<line x1="524.5" y1="631" x2="524.5" y2="632.2" stroke="#cfcfcf" stroke-width="1"/>
<line x1="569.5" y1="631" x2="569.5" y2="632.2" stroke="#cfcfcf" stroke-width="1"/>
<line x1="614.5" y1="631" x2="614.5" y2="632.2" stroke="#cfcfcf" stroke-width="1"/>
<line x1="659.5" y1="631" x2="659.5" y2="632.2" stroke="#cfcfcf" stroke-width="1"/>
<line x1="704.5" y1="631" x2="704.5" y2="632.2" stroke="#cfcfcf" stroke-width="1"/>
<line x1="749.5" y1="631" x2="749.5" y2="632.2" stroke="#cfcfcf" stroke-width="1"/>
<line x1="767.5" y1="631" x2="767.5" y2="632.2" stroke="#cfcfcf" stroke-width="1"/>
<line x1="785.5" y1="631" x2="785.5" y2="632.2" stroke="#cfcfcf" stroke-width="1"/>
<line x1="47.5" y1="352.8" x2="47.5" y2="354" stroke="#bbb" stroke-width="1"/>
<line x1="47.5" y1="364.8" x2="47.5" y2="366" stroke="#bbb" stroke-width="1"/>
<line x1="47.5" y1="618.8" x2="47.5" y2="620" stroke="#bbb" stroke-width="1"/>
<line x1="56.5" y1="352.8" x2="56.5" y2="354" stroke="#bbb" stroke-width="1"/>
<line x1="56.5" y1="364.8" x2="56.5" y2="366" stroke="#bbb" stroke-width="1"/>
<line x1="56.5" y1="618.8" x2="56.5" y2="620" stroke="#bbb" stroke-width="1"/>
<line x1="65.5" y1="352.8" x2="65.5" y2="354" stroke="#bbb" stroke-width="1"/>
<line x1="65.5" y1="364.8" x2="65.5" y2="366" stroke="#bbb" stroke-width="1"/>
<line x1="65.5" y1="618.8" x2="65.5" y2="620" stroke="#bbb" stroke-width="1"/>
<line x1="74.5" y1="352.8" x2="74.5" y2="354" stroke="#bbb" stroke-width="1"/>
<line x1="74.5" y1="364.8" x2="74.5" y2="366" stroke="#bbb" stroke-width="1"/>
<line x1="74.5" y1="618.8" x2="74.5" y2="620" stroke="#bbb" stroke-width="1"/>
<line x1="83.5" y1="352.8" x2="83.5" y2="354" stroke="#bbb" stroke-width="1"/>
<line x1="83.5" y1="364.8" x2="83.5" y2="366" stroke="#bbb" stroke-width="1"/>
<line x1="83.5" y1="618.8" x2="83.5" y2="620" stroke="#bbb" stroke-width="1"/>
<line x1="92.5" y1="352.8" x2="92.5" y2="354" stroke="#bbb" stroke-width="1"/>
<line x1="92.5" y1="364.8" x2="92.5" y2="366" stroke="#bbb" stroke-width="1"/>
<line x1="92.5" y1="618.8" x2="92.5" y2="620" stroke="#bbb" stroke-width="1"/>
<line x1="101.5" y1="352.8" x2="101.5" y2="354" stroke="#bbb" stroke-width="1"/>
<line x1="101.5" y1="364.8" x2="101.5" y2="366" stroke="#bbb" stroke-width="1"/>
<line x1="101.5" y1="618.8" x2="101.5" y2="620" stroke="#bbb" stroke-width="1"/>
<line x1="110.5" y1="352.8" x2="110.5" y2="354" stroke="#bbb" stroke-width="1"/>
<line x1="110.5" y1="364.8" x2="110.5" y2="366" stroke="#bbb" stroke-width="1"/>
<line x1="110.5" y1="618.8" x2="110.5" y2="620" stroke="#bbb" stroke-width="1"/>
<line x1="119.5" y1="352.8" x2="119.5" y2="354" stroke="#bbb" stroke-width="1"/>
<line x1="119.5" y1="364.8" x2="119.5" y2="366" stroke="#bbb" stroke-width="1"/>
<line x1="119.5" y1="618.8" x2="119.5" y2="620" stroke="#bbb" stroke-width="1"/>
<line x1="128.5" y1="352.8" x2="128.5" y2="354" stroke="#bbb" stroke-width="1"/>
<line x1="128.5" y1="364.8" x2="128.5" y2="366" stroke="#bbb" stroke-width="1"/>
<line x1="128.5" y1="618.8" x2="128.5" y2="620" stroke="#bbb" stroke-width="1"/>
<line x1="137.5" y1="352.8" x2="137.5" y2="354" stroke="#bbb" stroke-width="1"/>
<line x1="137.5" y1="364.8" x2="137.5" y2="366" stroke="#bbb" stroke-width="1"/>
<line x1="137.5" y1="618.8" x2="137.5" y2="620" stroke="#bbb" stroke-width="1"/>
<line x1="146.5" y1="352.8" x2="146.5" y2="354" stroke="#bbb" stroke-width="1"/>
<line x1="146.5" y1="364.8" x2="146.5" y2="366" stroke="#bbb" stroke-width="1"/>
<line x1="146.5" y1="618.8" x2="146.5" y2="620" stroke="#bbb" stroke-width="1"/>
<line x1="155.5" y1="352.8" x2="155.5" y2="354" stroke="#bbb" stroke-width="1"/>
<line x1="155.5" y1="364.8" x2="155.5" y2="366" stroke="#bbb" stroke-width="1"/>
<line x1="155.5" y1="618.8" x2="155.5" y2="620" stroke="#bbb" stroke-width="1"/>
<line x1="164.5" y1="352.8" x2="164.5" y2="354" stroke="#bbb" stroke-width="1"/>
<line x1="164.5" y1="364.8" x2="164.5" y2="366" stroke="#bbb" stroke-width="1"/>
<line x1="164.5" y1="618.8" x2="164.5" y2="620" stroke="#bbb" stroke-width="1"/>
<line x1="173.5" y1="352.8" x2="173.5" y2="354" stroke="#bbb" stroke-width="1"/>
<line x1="173.5" y1="364.8" x2="173.5" y2="366" stroke="#bbb" stroke-width="1"/>
<line x1="173.5" y1="618.8" x2="173.5" y2="620" stroke="#bbb" stroke-width="1"/>
<line x1="182.5" y1="352.8" x2="182.5" y2="354" stroke="#bbb" stroke-width="1"/>
<line x1="182.5" y1="364.8" x2="182.5" y2="366" stroke="#bbb" stroke-width="1"/>
<line x1="182.5" y1="618.8" x2="182.5" y2="620" stroke="#bbb" stroke-width="1"/>
<line x1="191.5" y1="352.8" x2="191.5" y2="354" stroke="#bbb" stroke-width="1"/>
<line x1="191.5" y1="364.8" x2="191.5" y2="366" stroke="#bbb" stroke-width="1"/>
<line x1="191.5" y1="618.8" x2="191.5" y2="620" stroke="#bbb" stroke-width="1"/>
<line x1="200.5" y1="352.8" x2="200.5" y2="354" stroke="#bbb" stroke-width="1"/>
<line x1="200.5" y1="364.8" x2="200.5" y2="366" stroke="#bbb" stroke-width="1"/>
<line x1="200.5" y1="618.8" x2="200.5" y2="620" stroke="#bbb" stroke-width="1"/>
<line x1="209.5" y1="352.8" x2="209.5" y2="354" stroke="#bbb" stroke-width="1"/>
<line x1="209.5" y1="364.8" x2="209.5" y2="366" stroke="#bbb" stroke-width="1"/>
<line x1="209.5" y1="618.8" x2="209.5" y2="620" stroke="#bbb" stroke-width="1"/>
<line x1="218.5" y1="352.8" x2="218.5" y2="354" stroke="#bbb" stroke-width="1"/>
<line x1="218.5" y1="364.8" x2="218.5" y2="366" stroke="#bbb" stroke-width="1"/>
<line x1="218.5" y1="618.8" x2="218.5" y2="620" stroke="#bbb" stroke-width="1"/>
<line x1="227.5" y1="352.8" x2="227.5" y2="354" stroke="#bbb" stroke-width="1"/>
<line x1="227.5" y1="364.8" x2="227.5" y2="366" stroke="#bbb" stroke-width="1"/>
<line x1="227.5" y1="618.8" x2="227.5" y2="620" stroke="#bbb" stroke-width="1"/>
<line x1="236.5" y1="352.8" x2="236.5" y2="354" stroke="#bbb" stroke-width="1"/>
<line x1="236.5" y1="364.8" x2="236.5" y2="366" stroke="#bbb" stroke-width="1"/>
<line x1="236.5" y1="618.8" x2="236.5" y2="620" stroke="#bbb" stroke-width="1"/>
<line x1="245.5" y1="352.8" x2="245.5" y2="354" stroke="#bbb" stroke-width="1"/>
<line x1="245.5" y1="364.8" x2="245.5" y2="366" stroke="#bbb" stroke-width="1"/>
<line x1="245.5" y1="618.8" x2="245.5" y2="620" stroke="#bbb" stroke-width="1"/>
<line x1="254.5" y1="352.8" x2="254.5" y2="354" stroke="#bbb" stroke-width="1"/>
<line x1="254.5" y1="364.8" x2="254.5" y2="366" stroke="#bbb" stroke-width="1"/>
<line x1="254.5" y1="618.8" x2="254.5" y2="620" stroke="#bbb" stroke-width="1"/>
<line x1="263.5" y1="352.8" x2="263.5" y2="354" stroke="#bbb" stroke-width="1"/>
<line x1="263.5" y1="364.8" x2="263.5" y2="366" stroke="#bbb" stroke-width="1"/>
<line x1="263.5" y1="618.8" x2="263.5" y2="620" stroke="#bbb" stroke-width="1"/>
<line x1="272.5" y1="352.8" x2="272.5" y2="354" stroke="#bbb" stroke-width="1"/>
<line x1="272.5" y1="364.8" x2="272.5" y2="366" stroke="#bbb" stroke-width="1"/>
<line x1="272.5" y1="618.8" x2="272.5" y2="620" stroke="#bbb" stroke-width="1"/>
<line x1="281.5" y1="352.8" x2="281.5" y2="354" stroke="#bbb" stroke-width="1"/>
<line x1="281.5" y1="364.8" x2="281.5" y2="366" stroke="#bbb" stroke-width="1"/>
<line x1="281.5" y1="618.8" x2="281.5" y2="620" stroke="#bbb" stroke-width="1"/>
<line x1="290.5" y1="352.8" x2="290.5" y2="354" stroke="#bbb" stroke-width="1"/>
<line x1="290.5" y1="364.8" x2="290.5" y2="366" stroke="#bbb" stroke-width="1"/>
<line x1="290.5" y1="618.8" x2="290.5" y2="620" stroke="#bbb" stroke-width="1"/>
<line x1="299.5" y1="352.8" x2="299.5" y2="354" stroke="#bbb" stroke-width="1"/>
<line x1="299.5" y1="364.8" x2="299.5" y2="366" stroke="#bbb" stroke-width="1"/>
<line x1="299.5" y1="618.8" x2="299.5" y2="620" stroke="#bbb" stroke-width="1"/>
<line x1="308.5" y1="352.8" x2="308.5" y2="354" stroke="#bbb" stroke-width="1"/>
<line x1="308.5" y1="364.8" x2="308.5" y2="366" stroke="#bbb" stroke-width="1"/>
<line x1="308.5" y1="618.8" x2="308.5" y2="620" stroke="#bbb" stroke-width="1"/>
<line x1="317.5" y1="352.8" x2="317.5" y2="354" stroke="#bbb" stroke-width="1"/>
<line x1="317.5" y1="364.8" x2="317.5" y2="366" stroke="#bbb" stroke-width="1"/>
<line x1="317.5" y1="618.8" x2="317.5" y2="620" stroke="#bbb" stroke-width="1"/>
<line x1="326.5" y1="352.8" x2="326.5" y2="354" stroke="#bbb" stroke-width="1"/>
<line x1="326.5" y1="364.8" x2="326.5" y2="366" stroke="#bbb" stroke-width="1"/>
<line x1="326.5" y1="618.8" x2="326.5" y2="620" stroke="#bbb" stroke-width="1"/>
<line x1="335.5" y1="352.8" x2="335.5" y2="354" stroke="#bbb" stroke-width="1"/>
<line x1="335.5" y1="364.8" x2="335.5" y2="366" stroke="#bbb" stroke-width="1"/>
<line x1="335.5" y1="618.8" x2="335.5" y2="620" stroke="#bbb" stroke-width="1"/>
<line x1="344.5" y1="352.8" x2="344.5" y2="354" stroke="#bbb" stroke-width="1"/>
<line x1="344.5" y1="364.8" x2="344.5" y2="366" stroke="#bbb" stroke-width="1"/>
<line x1="344.5" y1="618.8" x2="344.5" y2="620" stroke="#bbb" stroke-width="1"/>
<line x1="353.5" y1="352.8" x2="353.5" y2="354" stroke="#bbb" stroke-width="1"/>
<line x1="353.5" y1="364.8" x2="353.5" y2="366" stroke="#bbb" stroke-width="1"/>
<line x1="353.5" y1="618.8" x2="353.5" y2="620" stroke="#bbb" stroke-width="1"/>
<line x1="362.5" y1="352.8" x2="362.5" y2="354" stroke="#bbb" stroke-width="1"/>
<line x1="362.5" y1="364.8" x2="362.5" y2="366" stroke="#bbb" stroke-width="1"/>
<line x1="362.5" y1="618.8" x2="362.5" y2="620" stroke="#bbb" stroke-width="1"/>
<line x1="371.5" y1="352.8" x2="371.5" y2="354" stroke="#bbb" stroke-width="1"/>
<line x1="371.5" y1="364.8" x2="371.5" y2="366" stroke="#bbb" stroke-width="1"/>
<line x1="371.5" y1="618.8" x2="371.5" y2="620" stroke="#bbb" stroke-width="1"/>
<line x1="380.5" y1="352.8" x2="380.5" y2="354" stroke="#bbb" stroke-width="1"/>
<line x1="380.5" y1="364.8" x2="380.5" y2="366" stroke="#bbb" stroke-width="1"/>
<line x1="380.5" y1="618.8" x2="380.5" y2="620" stroke="#bbb" stroke-width="1"/>
<line x1="389.5" y1="352.8" x2="389.5" y2="354" stroke="#bbb" stroke-width="1"/>
<line x1="389.5" y1="364.8" x2="389.5" y2="366" stroke="#bbb" stroke-width="1"/>
<line x1="389.5" y1="618.8" x2="389.5" y2="620" stroke="#bbb" stroke-width="1"/>
<line x1="398.5" y1="352.8" x2="398.5" y2="354" stroke="#bbb" stroke-width="1"/>
<line x1="398.5" y1="364.8" x2="398.5" y2="366" stroke="#bbb" stroke-width="1"/>
<line x1="398.5" y1="618.8" x2="398.5" y2="620" stroke="#bbb" stroke-width="1"/>
<line x1="407.5" y1="352.8" x2="407.5" y2="354" stroke="#bbb" stroke-width="1"/>
<line x1="407.5" y1="364.8" x2="407.5" y2="366" stroke="#bbb" stroke-width="1"/>
<line x1="407.5" y1="618.8" x2="407.5" y2="620" stroke="#bbb" stroke-width="1"/>
<line x1="416.5" y1="352.8" x2="416.5" y2="354" stroke="#bbb" stroke-width="1"/>
<line x1="416.5" y1="364.8" x2="416.5" y2="366" stroke="#bbb" stroke-width="1"/>
<line x1="416.5" y1="618.8" x2="416.5" y2="620" stroke="#bbb" stroke-width="1"/>
<line x1="425.5" y1="352.8" x2="425.5" y2="354" stroke="#bbb" stroke-width="1"/>
<line x1="425.5" y1="364.8" x2="425.5" y2="366" stroke="#bbb" stroke-width="1"/>
<line x1="425.5" y1="618.8" x2="425.5" y2="620" stroke="#bbb" stroke-width="1"/>
<line x1="434.5" y1="352.8" x2="434.5" y2="354" stroke="#bbb" stroke-width="1"/>
<line x1="434.5" y1="364.8" x2="434.5" y2="366" stroke="#bbb" stroke-width="1"/>
<line x1="434.5" y1="618.8" x2="434.5" y2="620" stroke="#bbb" stroke-width="1"/>
<line x1="443.5" y1="352.8" x2="443.5" y2="354" stroke="#bbb" stroke-width="1"/>
<line x1="443.5" y1="364.8" x2="443.5" y2="366" stroke="#bbb" stroke-width="1"/>
<line x1="443.5" y1="618.8" x2="443.5" y2="620" stroke="#bbb" stroke-width="1"/>
<line x1="452.5" y1="352.8" x2="452.5" y2="354" stroke="#bbb" stroke-width="1"/>
<line x1="452.5" y1="364.8" x2="452.5" y2="366" stroke="#bbb" stroke-width="1"/>
<line x1="452.5" y1="618.8" x2="452.5" y2="620" stroke="#bbb" stroke-width="1"/>
<line x1="461.5" y1="352.8" x2="461.5" y2="354" stroke="#bbb" stroke-width="1"/>
<line x1="461.5" y1="364.8" x2="461.5" y2="366" stroke="#bbb" stroke-width="1"/>
<line x1="461.5" y1="618.8" x2="461.5" y2="620" stroke="#bbb" stroke-width="1"/>
<line x1="470.5" y1="352.8" x2="470.5" y2="354" stroke="#bbb" stroke-width="1"/>
<line x1="470.5" y1="364.8" x2="470.5" y2="366" stroke="#bbb" stroke-width="1"/>
<line x1="470.5" y1="618.8" x2="470.5" y2="620" stroke="#bbb" stroke-width="1"/>
<line x1="479.5" y1="352.8" x2="479.5" y2="354" stroke="#bbb" stroke-width="1"/>
<line x1="479.5" y1="364.8" x2="479.5" y2="366" stroke="#bbb" stroke-width="1"/>
<line x1="479.5" y1="618.8" x2="479.5" y2="620" stroke="#bbb" stroke-width="1"/>
<line x1="488.5" y1="352.8" x2="488.5" y2="354" stroke="#bbb" stroke-width="1"/>
<line x1="488.5" y1="364.8" x2="488.5" y2="366" stroke="#bbb" stroke-width="1"/>
<line x1="488.5" y1="618.8" x2="488.5" y2="620" stroke="#bbb" stroke-width="1"/>
<line x1="497.5" y1="352.8" x2="497.5" y2="354" stroke="#bbb" stroke-width="1"/>
<line x1="497.5" y1="364.8" x2="497.5" y2="366" stroke="#bbb" stroke-width="1"/>
<line x1="497.5" y1="618.8" x2="497.5" y2="620" stroke="#bbb" stroke-width="1"/>
<line x1="506.5" y1="352.8" x2="506.5" y2="354" stroke="#bbb" stroke-width="1"/>
<line x1="506.5" y1="364.8" x2="506.5" y2="366" stroke="#bbb" stroke-width="1"/>
<line x1="506.5" y1="618.8" x2="506.5" y2="620" stroke="#bbb" stroke-width="1"/>
<line x1="515.5" y1="352.8" x2="515.5" y2="354" stroke="#bbb" stroke-width="1"/>
<line x1="515.5" y1="364.8" x2="515.5" y2="366" stroke="#bbb" stroke-width="1"/>
<line x1="515.5" y1="618.8" x2="515.5" y2="620" stroke="#bbb" stroke-width="1"/>
<line x1="524.5" y1="352.8" x2="524.5" y2="354" stroke="#bbb" stroke-width="1"/>
<line x1="524.5" y1="364.8" x2="524.5" y2="366" stroke="#bbb" stroke-width="1"/>
<line x1="524.5" y1="618.8" x2="524.5" y2="620" stroke="#bbb" stroke-width="1"/>
<line x1="533.5" y1="352.8" x2="533.5" y2="354" stroke="#bbb" stroke-width="1"/>
<line x1="533.5" y1="364.8" x2="533.5" y2="366" stroke="#bbb" stroke-width="1"/>
<line x1="533.5" y1="618.8" x2="533.5" y2="620" stroke="#bbb" stroke-width="1"/>
<line x1="542.5" y1="352.8" x2="542.5" y2="354" stroke="#bbb" stroke-width="1"/>
<line x1="542.5" y1="364.8" x2="542.5" y2="366" stroke="#bbb" stroke-width="1"/>
<line x1="542.5" y1="618.8" x2="542.5" y2="620" stroke="#bbb" stroke-width="1"/>
<line x1="551.5" y1="352.8" x2="551.5" y2="354" stroke="#bbb" stroke-width="1"/>
<line x1="551.5" y1="364.8" x2="551.5" y2="366" stroke="#bbb" stroke-width="1"/>
<line x1="551.5" y1="618.8" x2="551.5" y2="620" stroke="#bbb" stroke-width="1"/>
<line x1="560.5" y1="352.8" x2="560.5" y2="354" stroke="#bbb" stroke-width="1"/>
<line x1="560.5" y1="364.8" x2="560.5" y2="366" stroke="#bbb" stroke-width="1"/>
<line x1="560.5" y1="618.8" x2="560.5" y2="620" stroke="#bbb" stroke-width="1"/>
<line x1="569.5" y1="352.8" x2="569.5" y2="354" stroke="#bbb" stroke-width="1"/>
<line x1="569.5" y1="364.8" x2="569.5" y2="366" stroke="#bbb" stroke-width="1"/>
<line x1="569.5" y1="618.8" x2="569.5" y2="620" stroke="#bbb" stroke-width="1"/>
<line x1="578.5" y1="352.8" x2="578.5" y2="354" stroke="#bbb" stroke-width="1"/>
<line x1="578.5" y1="364.8" x2="578.5" y2="366" stroke="#bbb" stroke-width="1"/>
<line x1="578.5" y1="618.8" x2="578.5" y2="620" stroke="#bbb" stroke-width="1"/>
<line x1="587.5" y1="352.8" x2="587.5" y2="354" stroke="#bbb" stroke-width="1"/>
<line x1="587.5" y1="364.8" x2="587.5" y2="366" stroke="#bbb" stroke-width="1"/>
<line x1="587.5" y1="618.8" x2="587.5" y2="620" stroke="#bbb" stroke-width="1"/>
<line x1="596.5" y1="352.8" x2="596.5" y2="354" stroke="#bbb" stroke-width="1"/>
<line x1="596.5" y1="364.8" x2="596.5" y2="366" stroke="#bbb" stroke-width="1"/>
<line x1="596.5" y1="618.8" x2="596.5" y2="620" stroke="#bbb" stroke-width="1"/>
<line x1="605.5" y1="352.8" x2="605.5" y2="354" stroke="#bbb" stroke-width="1"/>
<line x1="605.5" y1="364.8" x2="605.5" y2="366" stroke="#bbb" stroke-width="1"/>
<line x1="605.5" y1="618.8" x2="605.5" y2="620" stroke="#bbb" stroke-width="1"/>
<line x1="614.5" y1="352.8" x2="614.5" y2="354" stroke="#bbb" stroke-width="1"/>
<line x1="614.5" y1="364.8" x2="614.5" y2="366" stroke="#bbb" stroke-width="1"/>
<line x1="614.5" y1="618.8" x2="614.5" y2="620" stroke="#bbb" stroke-width="1"/>
<line x1="623.5" y1="352.8" x2="623.5" y2="354" stroke="#bbb" stroke-width="1"/>
<line x1="623.5" y1="364.8" x2="623.5" y2="366" stroke="#bbb" stroke-width="1"/>
<line x1="623.5" y1="618.8" x2="623.5" y2="620" stroke="#bbb" stroke-width="1"/>
<line x1="632.5" y1="352.8" x2="632.5" y2="354" stroke="#bbb" stroke-width="1"/>
<line x1="632.5" y1="364.8" x2="632.5" y2="366" stroke="#bbb" stroke-width="1"/>
<line x1="632.5" y1="618.8" x2="632.5" y2="620" stroke="#bbb" stroke-width="1"/>
<line x1="641.5" y1="352.8" x2="641.5" y2="354" stroke="#bbb" stroke-width="1"/>
<line x1="641.5" y1="364.8" x2="641.5" y2="366" stroke="#bbb" stroke-width="1"/>
<line x1="641.5" y1="618.8" x2="641.5" y2="620" stroke="#bbb" stroke-width="1"/>
<line x1="650.5" y1="352.8" x2="650.5" y2="354" stroke="#bbb" stroke-width="1"/>
<line x1="650.5" y1="364.8" x2="650.5" y2="366" stroke="#bbb" stroke-width="1"/>
<line x1="650.5" y1="618.8" x2="650.5" y2="620" stroke="#bbb" stroke-width="1"/>
<line x1="659.5" y1="352.8" x2="659.5" y2="354" stroke="#bbb" stroke-width="1"/>
<line x1="659.5" y1="364.8" x2="659.5" y2="366" stroke="#bbb" stroke-width="1"/>
<line x1="659.5" y1="618.8" x2="659.5" y2="620" stroke="#bbb" stroke-width="1"/>
<line x1="668.5" y1="352.8" x2="668.5" y2="354" stroke="#bbb" stroke-width="1"/>
<line x1="668.5" y1="364.8" x2="668.5" y2="366" stroke="#bbb" stroke-width="1"/>
<line x1="668.5" y1="618.8" x2="668.5" y2="620" stroke="#bbb" stroke-width="1"/>
<line x1="677.5" y1="352.8" x2="677.5" y2="354" stroke="#bbb" stroke-width="1"/>
<line x1="677.5" y1="364.8" x2="677.5" y2="366" stroke="#bbb" stroke-width="1"/>
<line x1="677.5" y1="618.8" x2="677.5" y2="620" stroke="#bbb" stroke-width="1"/>
<line x1="686.5" y1="352.8" x2="686.5" y2="354" stroke="#bbb" stroke-width="1"/>
<line x1="686.5" y1="364.8" x2="686.5" y2="366" stroke="#bbb" stroke-width="1"/>
<line x1="686.5" y1="618.8" x2="686.5" y2="620" stroke="#bbb" stroke-width="1"/>
<line x1="695.5" y1="352.8" x2="695.5" y2="354" stroke="#bbb" stroke-width="1"/>
<line x1="695.5" y1="364.8" x2="695.5" y2="366" stroke="#bbb" stroke-width="1"/>
<line x1="695.5" y1="618.8" x2="695.5" y2="620" stroke="#bbb" stroke-width="1"/>
<line x1="704.5" y1="352.8" x2="704.5" y2="354" stroke="#bbb" stroke-width="1"/>
<line x1="704.5" y1="364.8" x2="704.5" y2="366" stroke="#bbb" stroke-width="1"/>
<line x1="704.5" y1="618.8" x2="704.5" y2="620" stroke="#bbb" stroke-width="1"/>
<line x1="713.5" y1="352.8" x2="713.5" y2="354" stroke="#bbb" stroke-width="1"/>
<line x1="713.5" y1="364.8" x2="713.5" y2="366" stroke="#bbb" stroke-width="1"/>
<line x1="713.5" y1="618.8" x2="713.5" y2="620" stroke="#bbb" stroke-width="1"/>
<line x1="722.5" y1="352.8" x2="722.5" y2="354" stroke="#bbb" stroke-width="1"/>
<line x1="722.5" y1="364.8" x2="722.5" y2="366" stroke="#bbb" stroke-width="1"/>
<line x1="722.5" y1="618.8" x2="722.5" y2="620" stroke="#bbb" stroke-width="1"/>
<line x1="731.5" y1="352.8" x2="731.5" y2="354" stroke="#bbb" stroke-width="1"/>
<line x1="731.5" y1="364.8" x2="731.5" y2="366" stroke="#bbb" stroke-width="1"/>
<line x1="731.5" y1="618.8" x2="731.5" y2="620" stroke="#bbb" stroke-width="1"/>
<line x1="740.5" y1="352.8" x2="740.5" y2="354" stroke="#bbb" stroke-width="1"/>
<line x1="740.5" y1="364.8" x2="740.5" y2="366" stroke="#bbb" stroke-width="1"/>
<line x1="740.5" y1="618.8" x2="740.5" y2="620" stroke="#bbb" stroke-width="1"/>
<line x1="749.5" y1="352.8" x2="749.5" y2="354" stroke="#bbb" stroke-width="1"/>
<line x1="749.5" y1="364.8" x2="749.5" y2="366" stroke="#bbb" stroke-width="1"/>
<line x1="749.5" y1="618.8" x2="749.5" y2="620" stroke="#bbb" stroke-width="1"/>
<line x1="758.5" y1="352.8" x2="758.5" y2="354" stroke="#bbb" stroke-width="1"/>
<line x1="758.5" y1="364.8" x2="758.5" y2="366" stroke="#bbb" stroke-width="1"/>
<line x1="758.5" y1="618.8" x2="758.5" y2="620" stroke="#bbb" stroke-width="1"/>
<line x1="767.5" y1="352.8" x2="767.5" y2="354" stroke="#bbb" stroke-width="1"/>
<line x1="767.5" y1="364.8" x2="767.5" y2="366" stroke="#bbb" stroke-width="1"/>
<line x1="767.5" y1="618.8" x2="767.5" y2="620" stroke="#bbb" stroke-width="1"/>
<line x1="776.5" y1="352.8" x2="776.5" y2="354" stroke="#bbb" stroke-width="1"/>
<line x1="776.5" y1="364.8" x2="776.5" y2="366" stroke="#bbb" stroke-width="1"/>
<line x1="776.5" y1="618.8" x2="776.5" y2="620" stroke="#bbb" stroke-width="1"/>
<line x1="785.5" y1="352.8" x2="785.5" y2="354" stroke="#bbb" stroke-width="1"/>
<line x1="785.5" y1="364.8" x2="785.5" y2="366" stroke="#bbb" stroke-width="1"/>
<line x1="785.5" y1="618.8" x2="785.5" y2="620" stroke="#bbb" stroke-width="1"/>
<line x1="794.5" y1="352.8" x2="794.5" y2="354" stroke="#bbb" stroke-width="1"/>
<line x1="794.5" y1="364.8" x2="794.5" y2="366" stroke="#bbb" stroke-width="1"/>
<line x1="794.5" y1="618.8" x2="794.5" y2="620" stroke="#bbb" stroke-width="1"/>
<line x1="803.5" y1="352.8" x2="803.5" y2="354" stroke="#bbb" stroke-width="1"/>
<line x1="803.5" y1="364.8" x2="803.5" y2="366" stroke="#bbb" stroke-width="1"/>
<line x1="803.5" y1="618.8" x2="803.5" y2="620" stroke="#bbb" stroke-width="1"/>
<text x="40" y="13.8" font-family="'Liberation Sans',Arial,sans-serif" font-size="14" fill="#000" font-weight="bold" textLength="33" lengthAdjust="spacingAndGlyphs">RDDT</text>
<text x="79" y="13" font-family="'Liberation Sans',Arial,sans-serif" font-size="11" fill="#000" textLength="49" lengthAdjust="spacingAndGlyphs">Reddit Inc.</text>
<text x="133.5" y="13" font-family="'Liberation Sans',Arial,sans-serif" font-size="9" fill="#000" textLength="26.5" lengthAdjust="spacingAndGlyphs">NYSE</text>
<text x="40" y="26" font-family="'Liberation Sans',Arial,sans-serif" font-size="10" fill="#000" stroke="#000" stroke-width="0.15" textLength="51" lengthAdjust="spacingAndGlyphs">8-Apr-2026</text>
<text x="351.6" y="25" font-family="'Liberation Sans',Arial,sans-serif" font-size="11" fill="#000" font-weight="bold" textLength="28.2" lengthAdjust="spacingAndGlyphs">Open</text>
<text x="385" y="25" font-family="'Liberation Sans',Arial,sans-serif" font-size="10" fill="#000" stroke="#000" stroke-width="0.15" textLength="31.5" lengthAdjust="spacingAndGlyphs">151.59</text>
<text x="423.2" y="25" font-family="'Liberation Sans',Arial,sans-serif" font-size="11" fill="#000" font-weight="bold" textLength="22.8" lengthAdjust="spacingAndGlyphs">High</text>
<text x="450.7" y="25" font-family="'Liberation Sans',Arial,sans-serif" font-size="10" fill="#000" stroke="#000" stroke-width="0.15" textLength="31.5" lengthAdjust="spacingAndGlyphs">154.77</text>
<text x="489" y="25" font-family="'Liberation Sans',Arial,sans-serif" font-size="11" fill="#000" font-weight="bold" textLength="22.9" lengthAdjust="spacingAndGlyphs">Low</text>
<text x="516.8" y="25" font-family="'Liberation Sans',Arial,sans-serif" font-size="10" fill="#000" stroke="#000" stroke-width="0.15" textLength="31.2" lengthAdjust="spacingAndGlyphs">143.86</text>
<text x="555" y="25" font-family="'Liberation Sans',Arial,sans-serif" font-size="11" fill="#000" font-weight="bold" textLength="31" lengthAdjust="spacingAndGlyphs">Close</text>
<text x="591.5" y="25" font-family="'Liberation Sans',Arial,sans-serif" font-size="10" fill="#000" stroke="#000" stroke-width="0.15" textLength="30.5" lengthAdjust="spacingAndGlyphs">145.00</text>
<text x="629" y="25" font-family="'Liberation Sans',Arial,sans-serif" font-size="11" fill="#000" font-weight="bold" textLength="42" lengthAdjust="spacingAndGlyphs">Volume</text>
<text x="675" y="25" font-family="'Liberation Sans',Arial,sans-serif" font-size="10" fill="#000" stroke="#000" stroke-width="0.15" textLength="23.6" lengthAdjust="spacingAndGlyphs">4.0M</text>
<text x="704.7" y="25" font-family="'Liberation Sans',Arial,sans-serif" font-size="11" fill="#000" font-weight="bold" textLength="21.3" lengthAdjust="spacingAndGlyphs">Chg</text>
<text x="730" y="25" font-family="'Liberation Sans',Arial,sans-serif" font-size="10" fill="#000" stroke="#000" stroke-width="0.15" textLength="72.5" lengthAdjust="spacingAndGlyphs">+3.86 (+2.73%)</text>
<path d="M805,24.8 L812.3,24.8 L808.65,20.9 Z" fill="#2c3c34"/>
<text x="722.6" y="13" font-family="'DejaVu Sans',Verdana,sans-serif" font-size="8.6" fill="#444" stroke="#444" stroke-width="0.1">©</text>
<text x="732.8" y="12.9" font-family="'Liberation Sans',Arial,sans-serif" font-size="10.6" fill="#444" textLength="79.4" lengthAdjust="spacingAndGlyphs">StockCharts.com</text>
</svg>
</body></html>
